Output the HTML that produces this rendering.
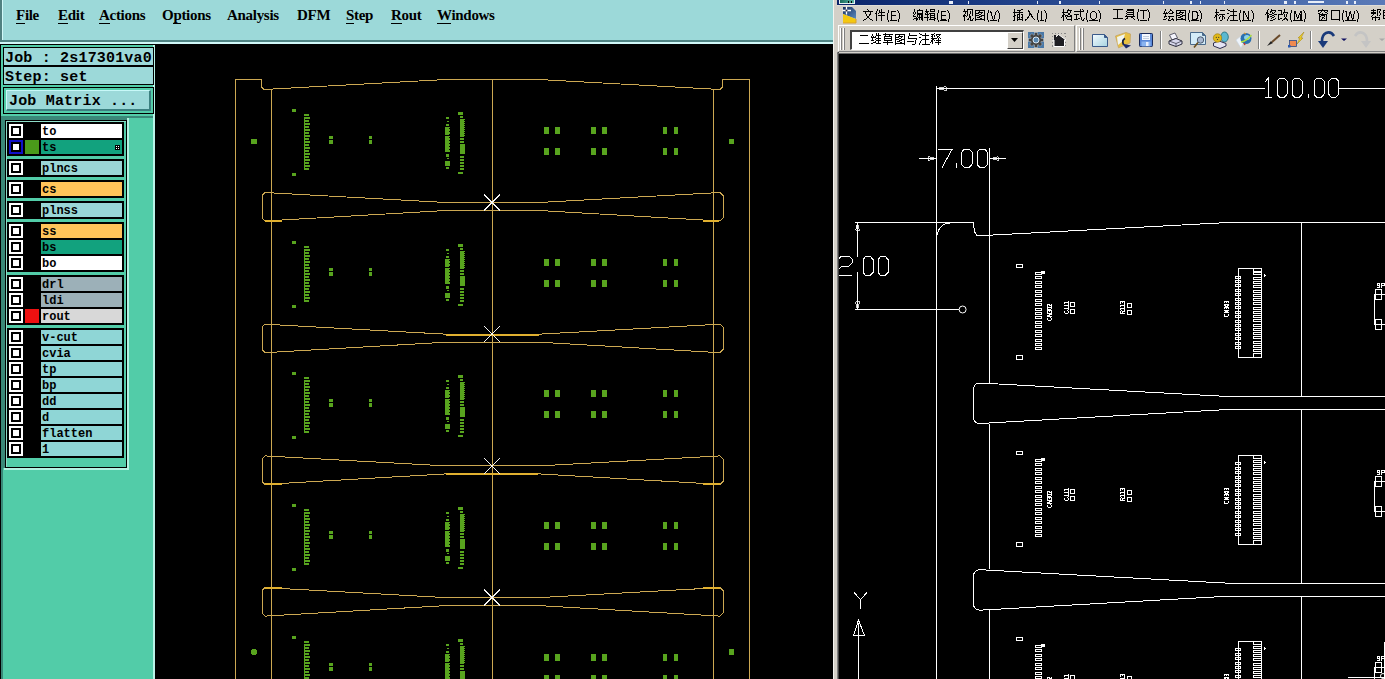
<!DOCTYPE html>
<html><head><meta charset="utf-8">
<style>
*{margin:0;padding:0;box-sizing:border-box}
html,body{width:1385px;height:679px;overflow:hidden;background:#000;position:relative}
.a{position:absolute}
.gm{font-family:"Liberation Serif",serif;font-weight:bold;font-size:15px;letter-spacing:-0.3px;color:#000;position:absolute;top:7px;line-height:17px;white-space:nowrap}
.gm u{text-decoration:none;border-bottom:1px solid #000}
.mono{font-family:"Liberation Mono",monospace;font-weight:bold;color:#000;white-space:pre;position:absolute}
</style></head><body>

<div class="a" style="left:0;top:0;width:833px;height:44px;background:#9cd9d9"></div>
<div class="a" style="left:0;top:0;width:2px;height:42px;background:#4f8080"></div>
<div class="a" style="left:2px;top:0;width:1px;height:42px;background:#d0f8f8"></div>
<div class="a" style="left:2px;top:40px;width:831px;height:2px;background:#508484"></div>
<div class="a" style="left:0;top:42px;width:833px;height:2px;background:#d0f8f8"></div>
<div class="a" style="left:0;top:44px;width:155px;height:1px;background:#000"></div>
<div class="gm" style="left:16px"><u>F</u>ile</div>
<div class="gm" style="left:58px"><u>E</u>dit</div>
<div class="gm" style="left:99px"><u>A</u>ctions</div>
<div class="gm" style="left:162px">O<u>p</u>tions</div>
<div class="gm" style="left:227px">Analysis</div>
<div class="gm" style="left:297px">DFM</div>
<div class="gm" style="left:346px"><u>S</u>tep</div>
<div class="gm" style="left:391px"><u>R</u>out</div>
<div class="gm" style="left:437px"><u>W</u>indows</div>
<div class="a" style="left:0;top:45px;width:155px;height:634px;background:#52cca8"></div>
<div class="a" style="left:0;top:45px;width:1px;height:634px;background:#000"></div>
<div class="a" style="left:153px;top:45px;width:2px;height:634px;background:#b8f4e8"></div>
<div class="a" style="left:3px;top:47px;width:151px;height:38px;background:#9cd9d9;border:1px solid #000"></div>
<div class="a" style="left:3px;top:65px;width:151px;height:2px;background:#000"></div>
<div class="mono" style="left:5px;top:50px;font-size:15px;line-height:17px;letter-spacing:0.18px">Job : 2s17301va0</div>
<div class="mono" style="left:5px;top:69px;font-size:15px;line-height:17px;letter-spacing:0.18px">Step: set</div>
<div class="a" style="left:3px;top:87px;width:151px;height:27px;background:#52cca8;border:1px solid #000"></div>
<div class="a" style="left:6px;top:90px;width:145px;height:21px;background:#9cd9d9;border-top:1px solid #c8f8f8;border-left:1px solid #c8f8f8;border-bottom:2px solid #3c8080;border-right:2px solid #3c8080"></div>
<div class="mono" style="left:9px;top:93px;font-size:15px;line-height:17px;letter-spacing:0.18px">Job Matrix ...</div>
<div class="a" style="left:1px;top:116px;width:152px;height:2px;background:#3a8878"></div>
<div class="a" style="left:1px;top:118px;width:126px;height:2px;background:#3a8878"></div>
<div class="a" style="left:1px;top:116px;width:2px;height:563px;background:#3a8878"></div>
<div class="a" style="left:3px;top:116px;width:2px;height:352px;background:#3a8878"></div>
<div class="a" style="left:5px;top:120px;width:122px;height:1px;background:#000"></div>
<div class="a" style="left:5px;top:120px;width:1px;height:348px;background:#000"></div>
<div class="a" style="left:6px;top:121px;width:120px;height:1px;background:#8edcc8"></div>
<div class="a" style="left:6px;top:121px;width:1px;height:346px;background:#8edcc8"></div>
<div class="a" style="left:126px;top:120px;width:1px;height:348px;background:#000"></div>
<div class="a" style="left:5px;top:467px;width:122px;height:1px;background:#000"></div>
<div class="a" style="left:127px;top:118px;width:2px;height:351px;background:#b4f2e2"></div>
<div class="a" style="left:4px;top:468px;width:125px;height:2px;background:#b4f2e2"></div>
<div class="a" style="left:7px;top:122px;width:117px;height:34px;background:#000"></div>
<div class="a" style="left:9px;top:124px;width:14px;height:14px;background:#fff"></div>
<div class="a" style="left:11px;top:126px;width:10px;height:10px;background:#000"></div>
<div class="a" style="left:13px;top:128px;width:6px;height:6px;background:#fff"></div>
<div class="a" style="left:41px;top:124px;width:81px;height:14px;background:#ffffff"></div>
<div class="mono" style="left:42px;top:125px;font-size:12px;line-height:14px">to</div>
<div class="a" style="left:9px;top:140px;width:14px;height:14px;background:#1010c8"></div>
<div class="a" style="left:11px;top:142px;width:10px;height:10px;background:#000"></div>
<div class="a" style="left:13px;top:144px;width:6px;height:6px;background:#fff"></div>
<div class="a" style="left:25px;top:140px;width:14px;height:14px;background:#4a9a1a"></div>
<div class="a" style="left:41px;top:140px;width:81px;height:14px;background:#12a27e"></div>
<div class="mono" style="left:42px;top:141px;font-size:12px;line-height:14px">ts</div>
<div class="a" style="left:115px;top:145px;width:5px;height:5px;background:#000"></div>
<div class="a" style="left:116px;top:146px;width:1px;height:1px;background:#fff;box-shadow:2px 0 #fff,0 2px #fff,2px 2px #fff"></div>
<div class="a" style="left:7px;top:159px;width:117px;height:18px;background:#000"></div>
<div class="a" style="left:9px;top:161px;width:14px;height:14px;background:#fff"></div>
<div class="a" style="left:11px;top:163px;width:10px;height:10px;background:#000"></div>
<div class="a" style="left:13px;top:165px;width:6px;height:6px;background:#fff"></div>
<div class="a" style="left:41px;top:161px;width:81px;height:14px;background:#9ad6d6"></div>
<div class="mono" style="left:42px;top:162px;font-size:12px;line-height:14px">plncs</div>
<div class="a" style="left:7px;top:180px;width:117px;height:18px;background:#000"></div>
<div class="a" style="left:9px;top:182px;width:14px;height:14px;background:#fff"></div>
<div class="a" style="left:11px;top:184px;width:10px;height:10px;background:#000"></div>
<div class="a" style="left:13px;top:186px;width:6px;height:6px;background:#fff"></div>
<div class="a" style="left:41px;top:182px;width:81px;height:14px;background:#ffc45a"></div>
<div class="mono" style="left:42px;top:183px;font-size:12px;line-height:14px">cs</div>
<div class="a" style="left:7px;top:201px;width:117px;height:18px;background:#000"></div>
<div class="a" style="left:9px;top:203px;width:14px;height:14px;background:#fff"></div>
<div class="a" style="left:11px;top:205px;width:10px;height:10px;background:#000"></div>
<div class="a" style="left:13px;top:207px;width:6px;height:6px;background:#fff"></div>
<div class="a" style="left:41px;top:203px;width:81px;height:14px;background:#9ad6d6"></div>
<div class="mono" style="left:42px;top:204px;font-size:12px;line-height:14px">plnss</div>
<div class="a" style="left:7px;top:222px;width:117px;height:50px;background:#000"></div>
<div class="a" style="left:9px;top:224px;width:14px;height:14px;background:#fff"></div>
<div class="a" style="left:11px;top:226px;width:10px;height:10px;background:#000"></div>
<div class="a" style="left:13px;top:228px;width:6px;height:6px;background:#fff"></div>
<div class="a" style="left:41px;top:224px;width:81px;height:14px;background:#ffc45a"></div>
<div class="mono" style="left:42px;top:225px;font-size:12px;line-height:14px">ss</div>
<div class="a" style="left:9px;top:240px;width:14px;height:14px;background:#fff"></div>
<div class="a" style="left:11px;top:242px;width:10px;height:10px;background:#000"></div>
<div class="a" style="left:13px;top:244px;width:6px;height:6px;background:#fff"></div>
<div class="a" style="left:41px;top:240px;width:81px;height:14px;background:#12a27e"></div>
<div class="mono" style="left:42px;top:241px;font-size:12px;line-height:14px">bs</div>
<div class="a" style="left:9px;top:256px;width:14px;height:14px;background:#fff"></div>
<div class="a" style="left:11px;top:258px;width:10px;height:10px;background:#000"></div>
<div class="a" style="left:13px;top:260px;width:6px;height:6px;background:#fff"></div>
<div class="a" style="left:41px;top:256px;width:81px;height:14px;background:#ffffff"></div>
<div class="mono" style="left:42px;top:257px;font-size:12px;line-height:14px">bo</div>
<div class="a" style="left:7px;top:275px;width:117px;height:50px;background:#000"></div>
<div class="a" style="left:9px;top:277px;width:14px;height:14px;background:#fff"></div>
<div class="a" style="left:11px;top:279px;width:10px;height:10px;background:#000"></div>
<div class="a" style="left:13px;top:281px;width:6px;height:6px;background:#fff"></div>
<div class="a" style="left:41px;top:277px;width:81px;height:14px;background:#9cb0b8"></div>
<div class="mono" style="left:42px;top:278px;font-size:12px;line-height:14px">drl</div>
<div class="a" style="left:9px;top:293px;width:14px;height:14px;background:#fff"></div>
<div class="a" style="left:11px;top:295px;width:10px;height:10px;background:#000"></div>
<div class="a" style="left:13px;top:297px;width:6px;height:6px;background:#fff"></div>
<div class="a" style="left:41px;top:293px;width:81px;height:14px;background:#9cb0b8"></div>
<div class="mono" style="left:42px;top:294px;font-size:12px;line-height:14px">ldi</div>
<div class="a" style="left:9px;top:309px;width:14px;height:14px;background:#fff"></div>
<div class="a" style="left:11px;top:311px;width:10px;height:10px;background:#000"></div>
<div class="a" style="left:13px;top:313px;width:6px;height:6px;background:#fff"></div>
<div class="a" style="left:25px;top:309px;width:14px;height:14px;background:#ee1111"></div>
<div class="a" style="left:41px;top:309px;width:81px;height:14px;background:#d8d8d8"></div>
<div class="mono" style="left:42px;top:310px;font-size:12px;line-height:14px">rout</div>
<div class="a" style="left:7px;top:328px;width:117px;height:130px;background:#000"></div>
<div class="a" style="left:9px;top:330px;width:14px;height:14px;background:#fff"></div>
<div class="a" style="left:11px;top:332px;width:10px;height:10px;background:#000"></div>
<div class="a" style="left:13px;top:334px;width:6px;height:6px;background:#fff"></div>
<div class="a" style="left:41px;top:330px;width:81px;height:14px;background:#8fd6d6"></div>
<div class="mono" style="left:42px;top:331px;font-size:12px;line-height:14px">v-cut</div>
<div class="a" style="left:9px;top:346px;width:14px;height:14px;background:#fff"></div>
<div class="a" style="left:11px;top:348px;width:10px;height:10px;background:#000"></div>
<div class="a" style="left:13px;top:350px;width:6px;height:6px;background:#fff"></div>
<div class="a" style="left:41px;top:346px;width:81px;height:14px;background:#8fd6d6"></div>
<div class="mono" style="left:42px;top:347px;font-size:12px;line-height:14px">cvia</div>
<div class="a" style="left:9px;top:362px;width:14px;height:14px;background:#fff"></div>
<div class="a" style="left:11px;top:364px;width:10px;height:10px;background:#000"></div>
<div class="a" style="left:13px;top:366px;width:6px;height:6px;background:#fff"></div>
<div class="a" style="left:41px;top:362px;width:81px;height:14px;background:#8fd6d6"></div>
<div class="mono" style="left:42px;top:363px;font-size:12px;line-height:14px">tp</div>
<div class="a" style="left:9px;top:378px;width:14px;height:14px;background:#fff"></div>
<div class="a" style="left:11px;top:380px;width:10px;height:10px;background:#000"></div>
<div class="a" style="left:13px;top:382px;width:6px;height:6px;background:#fff"></div>
<div class="a" style="left:41px;top:378px;width:81px;height:14px;background:#8fd6d6"></div>
<div class="mono" style="left:42px;top:379px;font-size:12px;line-height:14px">bp</div>
<div class="a" style="left:9px;top:394px;width:14px;height:14px;background:#fff"></div>
<div class="a" style="left:11px;top:396px;width:10px;height:10px;background:#000"></div>
<div class="a" style="left:13px;top:398px;width:6px;height:6px;background:#fff"></div>
<div class="a" style="left:41px;top:394px;width:81px;height:14px;background:#8fd6d6"></div>
<div class="mono" style="left:42px;top:395px;font-size:12px;line-height:14px">dd</div>
<div class="a" style="left:9px;top:410px;width:14px;height:14px;background:#fff"></div>
<div class="a" style="left:11px;top:412px;width:10px;height:10px;background:#000"></div>
<div class="a" style="left:13px;top:414px;width:6px;height:6px;background:#fff"></div>
<div class="a" style="left:41px;top:410px;width:81px;height:14px;background:#8fd6d6"></div>
<div class="mono" style="left:42px;top:411px;font-size:12px;line-height:14px">d</div>
<div class="a" style="left:9px;top:426px;width:14px;height:14px;background:#fff"></div>
<div class="a" style="left:11px;top:428px;width:10px;height:10px;background:#000"></div>
<div class="a" style="left:13px;top:430px;width:6px;height:6px;background:#fff"></div>
<div class="a" style="left:41px;top:426px;width:81px;height:14px;background:#8fd6d6"></div>
<div class="mono" style="left:42px;top:427px;font-size:12px;line-height:14px">flatten</div>
<div class="a" style="left:9px;top:442px;width:14px;height:14px;background:#fff"></div>
<div class="a" style="left:11px;top:444px;width:10px;height:10px;background:#000"></div>
<div class="a" style="left:13px;top:446px;width:6px;height:6px;background:#fff"></div>
<div class="a" style="left:41px;top:442px;width:81px;height:14px;background:#8fd6d6"></div>
<div class="mono" style="left:42px;top:443px;font-size:12px;line-height:14px">1</div>
<svg class="a" style="left:155px;top:44px" width="678" height="635" viewBox="155 44 678 635" shape-rendering="crispEdges"><g fill="none" stroke="#cca852" stroke-width="1"><path d="M235.5 679V79.5H261.5V87L264 89.5"/><path d="M749.5 679V79.5H722.5V87L720 89.5"/><path d="M271.5 89V679M713.5 89V679M492.5 79V679"/><path d="M264 89.5L446 79.5H539L720 89.5"/><path d="M265 192.5L446 202.5H539L720 192.5L723 195.5V218.0L720 221.0L539 210.5H446L265 221.0L262 218.0V195.5Z"/><path d="M265 324.2L446 334.2H539L720 324.2L723 327.2V349.7L720 352.7L539 342.2H446L265 352.7L262 349.7V327.2Z"/><path d="M265 455.9L446 465.9H539L720 455.9L723 458.9V481.4L720 484.4L539 473.9H446L265 484.4L262 481.4V458.9Z"/><path d="M265 587.5999999999999L446 597.5999999999999H539L720 587.5999999999999L723 590.5999999999999V613.0999999999999L720 616.0999999999999L539 605.5999999999999H446L265 616.0999999999999L262 613.0999999999999V590.5999999999999Z"/></g><path d="M265 220.5H282M703 220.5H719M446 334.5H539M265 483.5H282M703 483.5H720M446 473.5H538M265 588H282M703 588H720" stroke="#e0b030" stroke-width="2" fill="none"/><g stroke="#f4f4f4" stroke-width="1" shape-rendering="crispEdges"><path d="M484 194.5L500 210.5M500 194.5L484 210.5"/><path d="M484 326.2L500 342.2M500 326.2L484 342.2"/><path d="M484 457.9L500 473.9M500 457.9L484 473.9"/><path d="M484 589.5999999999999L500 605.5999999999999M500 589.5999999999999L484 605.5999999999999"/></g><g fill="#58a41e"><rect x="292" y="109.0" width="4" height="3"/><rect x="292" y="173.0" width="4" height="3"/><rect x="304" y="114.0" width="5" height="2"/><rect x="304" y="117.0" width="6" height="2"/><rect x="304" y="120.0" width="5" height="2"/><rect x="304" y="123.0" width="6" height="2"/><rect x="304" y="126.0" width="5" height="2"/><rect x="304" y="129.0" width="6" height="2"/><rect x="304" y="132.0" width="5" height="2"/><rect x="304" y="135.0" width="6" height="2"/><rect x="304" y="138.0" width="5" height="2"/><rect x="304" y="141.0" width="6" height="2"/><rect x="304" y="144.0" width="5" height="2"/><rect x="304" y="147.0" width="6" height="2"/><rect x="304" y="150.0" width="5" height="2"/><rect x="304" y="153.0" width="6" height="2"/><rect x="304" y="156.0" width="5" height="2"/><rect x="304" y="159.0" width="6" height="2"/><rect x="304" y="162.0" width="5" height="2"/><rect x="304" y="165.0" width="6" height="2"/><rect x="304" y="168.0" width="5" height="2"/><rect x="304" y="117.0" width="1" height="51"/><rect x="329" y="136.0" width="4" height="3"/><rect x="329" y="140.0" width="4" height="4"/><rect x="369" y="136.0" width="3" height="3"/><rect x="369" y="140.0" width="3" height="4"/><rect x="446" y="117" width="3" height="2"/><rect x="447" y="121" width="2" height="1"/><rect x="446" y="124" width="3" height="2"/><rect x="445" y="127" width="5" height="8"/><rect x="445" y="136" width="5" height="16"/><rect x="446" y="154" width="3" height="3"/><rect x="447" y="158" width="2" height="1"/><rect x="445" y="161" width="5" height="5"/><rect x="446" y="167" width="3" height="2"/><rect x="458" y="112" width="5" height="3"/><rect x="460" y="116" width="3" height="2"/><rect x="460" y="119" width="5" height="18"/><rect x="460" y="138" width="4" height="2"/><rect x="460" y="141" width="4" height="2"/><rect x="460" y="144" width="5" height="10"/><rect x="460" y="156" width="4" height="2"/><rect x="460" y="159" width="4" height="2"/><rect x="460" y="162" width="4" height="2"/><rect x="460" y="165" width="4" height="2"/><rect x="460" y="168" width="4" height="2"/><rect x="458" y="172" width="5" height="2"/><rect x="449" y="128" width="1" height="1" fill="#000"/><rect x="464" y="120" width="1" height="1" fill="#000"/><rect x="449" y="131" width="1" height="1" fill="#000"/><rect x="464" y="122" width="1" height="1" fill="#000"/><rect x="449" y="134" width="1" height="1" fill="#000"/><rect x="464" y="124" width="1" height="1" fill="#000"/><rect x="449" y="137" width="1" height="1" fill="#000"/><rect x="464" y="126" width="1" height="1" fill="#000"/><rect x="449" y="140" width="1" height="1" fill="#000"/><rect x="464" y="128" width="1" height="1" fill="#000"/><rect x="449" y="143" width="1" height="1" fill="#000"/><rect x="464" y="130" width="1" height="1" fill="#000"/><rect x="449" y="146" width="1" height="1" fill="#000"/><rect x="464" y="132" width="1" height="1" fill="#000"/><rect x="449" y="149" width="1" height="1" fill="#000"/><rect x="464" y="134" width="1" height="1" fill="#000"/><rect x="449" y="152" width="1" height="1" fill="#000"/><rect x="464" y="136" width="1" height="1" fill="#000"/><rect x="544" y="127.0" width="5" height="7"/><rect x="544" y="148.0" width="5" height="7"/><rect x="555" y="127.0" width="5" height="7"/><rect x="555" y="148.0" width="5" height="7"/><rect x="591" y="127.0" width="5" height="7"/><rect x="591" y="148.0" width="5" height="7"/><rect x="602" y="127.0" width="5" height="7"/><rect x="602" y="148.0" width="5" height="7"/><rect x="663" y="127.0" width="4" height="7"/><rect x="663" y="148.0" width="4" height="7"/><rect x="674" y="127.0" width="4" height="7"/><rect x="674" y="148.0" width="4" height="7"/><rect x="292" y="240.7" width="4" height="3"/><rect x="292" y="304.7" width="4" height="3"/><rect x="304" y="245.7" width="5" height="2"/><rect x="304" y="248.7" width="6" height="2"/><rect x="304" y="251.7" width="5" height="2"/><rect x="304" y="254.7" width="6" height="2"/><rect x="304" y="257.7" width="5" height="2"/><rect x="304" y="260.7" width="6" height="2"/><rect x="304" y="263.7" width="5" height="2"/><rect x="304" y="266.7" width="6" height="2"/><rect x="304" y="269.7" width="5" height="2"/><rect x="304" y="272.7" width="6" height="2"/><rect x="304" y="275.7" width="5" height="2"/><rect x="304" y="278.7" width="6" height="2"/><rect x="304" y="281.7" width="5" height="2"/><rect x="304" y="284.7" width="6" height="2"/><rect x="304" y="287.7" width="5" height="2"/><rect x="304" y="290.7" width="6" height="2"/><rect x="304" y="293.7" width="5" height="2"/><rect x="304" y="296.7" width="6" height="2"/><rect x="304" y="299.7" width="5" height="2"/><rect x="304" y="248.7" width="1" height="51"/><rect x="329" y="267.7" width="4" height="3"/><rect x="329" y="271.7" width="4" height="4"/><rect x="369" y="267.7" width="3" height="3"/><rect x="369" y="271.7" width="3" height="4"/><rect x="446" y="249" width="3" height="2"/><rect x="447" y="253" width="2" height="1"/><rect x="446" y="256" width="3" height="2"/><rect x="445" y="259" width="5" height="8"/><rect x="445" y="268" width="5" height="16"/><rect x="446" y="286" width="3" height="3"/><rect x="447" y="290" width="2" height="1"/><rect x="445" y="293" width="5" height="5"/><rect x="446" y="299" width="3" height="2"/><rect x="458" y="244" width="5" height="3"/><rect x="460" y="248" width="3" height="2"/><rect x="460" y="251" width="5" height="18"/><rect x="460" y="270" width="4" height="2"/><rect x="460" y="273" width="4" height="2"/><rect x="460" y="276" width="5" height="10"/><rect x="460" y="288" width="4" height="2"/><rect x="460" y="291" width="4" height="2"/><rect x="460" y="294" width="4" height="2"/><rect x="460" y="297" width="4" height="2"/><rect x="460" y="300" width="4" height="2"/><rect x="458" y="304" width="5" height="2"/><rect x="449" y="260" width="1" height="1" fill="#000"/><rect x="464" y="252" width="1" height="1" fill="#000"/><rect x="449" y="263" width="1" height="1" fill="#000"/><rect x="464" y="254" width="1" height="1" fill="#000"/><rect x="449" y="266" width="1" height="1" fill="#000"/><rect x="464" y="256" width="1" height="1" fill="#000"/><rect x="449" y="269" width="1" height="1" fill="#000"/><rect x="464" y="258" width="1" height="1" fill="#000"/><rect x="449" y="272" width="1" height="1" fill="#000"/><rect x="464" y="260" width="1" height="1" fill="#000"/><rect x="449" y="275" width="1" height="1" fill="#000"/><rect x="464" y="262" width="1" height="1" fill="#000"/><rect x="449" y="278" width="1" height="1" fill="#000"/><rect x="464" y="264" width="1" height="1" fill="#000"/><rect x="449" y="281" width="1" height="1" fill="#000"/><rect x="464" y="266" width="1" height="1" fill="#000"/><rect x="449" y="284" width="1" height="1" fill="#000"/><rect x="464" y="268" width="1" height="1" fill="#000"/><rect x="544" y="258.7" width="5" height="7"/><rect x="544" y="279.7" width="5" height="7"/><rect x="555" y="258.7" width="5" height="7"/><rect x="555" y="279.7" width="5" height="7"/><rect x="591" y="258.7" width="5" height="7"/><rect x="591" y="279.7" width="5" height="7"/><rect x="602" y="258.7" width="5" height="7"/><rect x="602" y="279.7" width="5" height="7"/><rect x="663" y="258.7" width="4" height="7"/><rect x="663" y="279.7" width="4" height="7"/><rect x="674" y="258.7" width="4" height="7"/><rect x="674" y="279.7" width="4" height="7"/><rect x="292" y="372.4" width="4" height="3"/><rect x="292" y="436.4" width="4" height="3"/><rect x="304" y="377.4" width="5" height="2"/><rect x="304" y="380.4" width="6" height="2"/><rect x="304" y="383.4" width="5" height="2"/><rect x="304" y="386.4" width="6" height="2"/><rect x="304" y="389.4" width="5" height="2"/><rect x="304" y="392.4" width="6" height="2"/><rect x="304" y="395.4" width="5" height="2"/><rect x="304" y="398.4" width="6" height="2"/><rect x="304" y="401.4" width="5" height="2"/><rect x="304" y="404.4" width="6" height="2"/><rect x="304" y="407.4" width="5" height="2"/><rect x="304" y="410.4" width="6" height="2"/><rect x="304" y="413.4" width="5" height="2"/><rect x="304" y="416.4" width="6" height="2"/><rect x="304" y="419.4" width="5" height="2"/><rect x="304" y="422.4" width="6" height="2"/><rect x="304" y="425.4" width="5" height="2"/><rect x="304" y="428.4" width="6" height="2"/><rect x="304" y="431.4" width="5" height="2"/><rect x="304" y="380.4" width="1" height="51"/><rect x="329" y="399.4" width="4" height="3"/><rect x="329" y="403.4" width="4" height="4"/><rect x="369" y="399.4" width="3" height="3"/><rect x="369" y="403.4" width="3" height="4"/><rect x="446" y="380" width="3" height="2"/><rect x="447" y="384" width="2" height="1"/><rect x="446" y="387" width="3" height="2"/><rect x="445" y="390" width="5" height="8"/><rect x="445" y="399" width="5" height="16"/><rect x="446" y="417" width="3" height="3"/><rect x="447" y="421" width="2" height="1"/><rect x="445" y="424" width="5" height="5"/><rect x="446" y="430" width="3" height="2"/><rect x="458" y="375" width="5" height="3"/><rect x="460" y="379" width="3" height="2"/><rect x="460" y="382" width="5" height="18"/><rect x="460" y="401" width="4" height="2"/><rect x="460" y="404" width="4" height="2"/><rect x="460" y="407" width="5" height="10"/><rect x="460" y="419" width="4" height="2"/><rect x="460" y="422" width="4" height="2"/><rect x="460" y="425" width="4" height="2"/><rect x="460" y="428" width="4" height="2"/><rect x="460" y="431" width="4" height="2"/><rect x="458" y="435" width="5" height="2"/><rect x="449" y="391" width="1" height="1" fill="#000"/><rect x="464" y="383" width="1" height="1" fill="#000"/><rect x="449" y="394" width="1" height="1" fill="#000"/><rect x="464" y="385" width="1" height="1" fill="#000"/><rect x="449" y="397" width="1" height="1" fill="#000"/><rect x="464" y="387" width="1" height="1" fill="#000"/><rect x="449" y="400" width="1" height="1" fill="#000"/><rect x="464" y="389" width="1" height="1" fill="#000"/><rect x="449" y="403" width="1" height="1" fill="#000"/><rect x="464" y="391" width="1" height="1" fill="#000"/><rect x="449" y="406" width="1" height="1" fill="#000"/><rect x="464" y="393" width="1" height="1" fill="#000"/><rect x="449" y="409" width="1" height="1" fill="#000"/><rect x="464" y="395" width="1" height="1" fill="#000"/><rect x="449" y="412" width="1" height="1" fill="#000"/><rect x="464" y="397" width="1" height="1" fill="#000"/><rect x="449" y="415" width="1" height="1" fill="#000"/><rect x="464" y="399" width="1" height="1" fill="#000"/><rect x="544" y="390.4" width="5" height="7"/><rect x="544" y="411.4" width="5" height="7"/><rect x="555" y="390.4" width="5" height="7"/><rect x="555" y="411.4" width="5" height="7"/><rect x="591" y="390.4" width="5" height="7"/><rect x="591" y="411.4" width="5" height="7"/><rect x="602" y="390.4" width="5" height="7"/><rect x="602" y="411.4" width="5" height="7"/><rect x="663" y="390.4" width="4" height="7"/><rect x="663" y="411.4" width="4" height="7"/><rect x="674" y="390.4" width="4" height="7"/><rect x="674" y="411.4" width="4" height="7"/><rect x="292" y="504.1" width="4" height="3"/><rect x="292" y="568.1" width="4" height="3"/><rect x="304" y="509.1" width="5" height="2"/><rect x="304" y="512.1" width="6" height="2"/><rect x="304" y="515.1" width="5" height="2"/><rect x="304" y="518.1" width="6" height="2"/><rect x="304" y="521.1" width="5" height="2"/><rect x="304" y="524.1" width="6" height="2"/><rect x="304" y="527.1" width="5" height="2"/><rect x="304" y="530.1" width="6" height="2"/><rect x="304" y="533.1" width="5" height="2"/><rect x="304" y="536.1" width="6" height="2"/><rect x="304" y="539.1" width="5" height="2"/><rect x="304" y="542.1" width="6" height="2"/><rect x="304" y="545.1" width="5" height="2"/><rect x="304" y="548.1" width="6" height="2"/><rect x="304" y="551.1" width="5" height="2"/><rect x="304" y="554.1" width="6" height="2"/><rect x="304" y="557.1" width="5" height="2"/><rect x="304" y="560.1" width="6" height="2"/><rect x="304" y="563.1" width="5" height="2"/><rect x="304" y="512.1" width="1" height="51"/><rect x="329" y="531.1" width="4" height="3"/><rect x="329" y="535.1" width="4" height="4"/><rect x="369" y="531.1" width="3" height="3"/><rect x="369" y="535.1" width="3" height="4"/><rect x="446" y="512" width="3" height="2"/><rect x="447" y="516" width="2" height="1"/><rect x="446" y="519" width="3" height="2"/><rect x="445" y="522" width="5" height="8"/><rect x="445" y="531" width="5" height="16"/><rect x="446" y="549" width="3" height="3"/><rect x="447" y="553" width="2" height="1"/><rect x="445" y="556" width="5" height="5"/><rect x="446" y="562" width="3" height="2"/><rect x="458" y="507" width="5" height="3"/><rect x="460" y="511" width="3" height="2"/><rect x="460" y="514" width="5" height="18"/><rect x="460" y="533" width="4" height="2"/><rect x="460" y="536" width="4" height="2"/><rect x="460" y="539" width="5" height="10"/><rect x="460" y="551" width="4" height="2"/><rect x="460" y="554" width="4" height="2"/><rect x="460" y="557" width="4" height="2"/><rect x="460" y="560" width="4" height="2"/><rect x="460" y="563" width="4" height="2"/><rect x="458" y="567" width="5" height="2"/><rect x="449" y="523" width="1" height="1" fill="#000"/><rect x="464" y="515" width="1" height="1" fill="#000"/><rect x="449" y="526" width="1" height="1" fill="#000"/><rect x="464" y="517" width="1" height="1" fill="#000"/><rect x="449" y="529" width="1" height="1" fill="#000"/><rect x="464" y="519" width="1" height="1" fill="#000"/><rect x="449" y="532" width="1" height="1" fill="#000"/><rect x="464" y="521" width="1" height="1" fill="#000"/><rect x="449" y="535" width="1" height="1" fill="#000"/><rect x="464" y="523" width="1" height="1" fill="#000"/><rect x="449" y="538" width="1" height="1" fill="#000"/><rect x="464" y="525" width="1" height="1" fill="#000"/><rect x="449" y="541" width="1" height="1" fill="#000"/><rect x="464" y="527" width="1" height="1" fill="#000"/><rect x="449" y="544" width="1" height="1" fill="#000"/><rect x="464" y="529" width="1" height="1" fill="#000"/><rect x="449" y="547" width="1" height="1" fill="#000"/><rect x="464" y="531" width="1" height="1" fill="#000"/><rect x="544" y="522.1" width="5" height="7"/><rect x="544" y="543.1" width="5" height="7"/><rect x="555" y="522.1" width="5" height="7"/><rect x="555" y="543.1" width="5" height="7"/><rect x="591" y="522.1" width="5" height="7"/><rect x="591" y="543.1" width="5" height="7"/><rect x="602" y="522.1" width="5" height="7"/><rect x="602" y="543.1" width="5" height="7"/><rect x="663" y="522.1" width="4" height="7"/><rect x="663" y="543.1" width="4" height="7"/><rect x="674" y="522.1" width="4" height="7"/><rect x="674" y="543.1" width="4" height="7"/><rect x="292" y="635.8" width="4" height="3"/><rect x="292" y="699.8" width="4" height="3"/><rect x="304" y="640.8" width="5" height="2"/><rect x="304" y="643.8" width="6" height="2"/><rect x="304" y="646.8" width="5" height="2"/><rect x="304" y="649.8" width="6" height="2"/><rect x="304" y="652.8" width="5" height="2"/><rect x="304" y="655.8" width="6" height="2"/><rect x="304" y="658.8" width="5" height="2"/><rect x="304" y="661.8" width="6" height="2"/><rect x="304" y="664.8" width="5" height="2"/><rect x="304" y="667.8" width="6" height="2"/><rect x="304" y="670.8" width="5" height="2"/><rect x="304" y="673.8" width="6" height="2"/><rect x="304" y="676.8" width="5" height="2"/><rect x="304" y="679.8" width="6" height="2"/><rect x="304" y="682.8" width="5" height="2"/><rect x="304" y="685.8" width="6" height="2"/><rect x="304" y="688.8" width="5" height="2"/><rect x="304" y="691.8" width="6" height="2"/><rect x="304" y="694.8" width="5" height="2"/><rect x="304" y="643.8" width="1" height="51"/><rect x="329" y="662.8" width="4" height="3"/><rect x="329" y="666.8" width="4" height="4"/><rect x="369" y="662.8" width="3" height="3"/><rect x="369" y="666.8" width="3" height="4"/><rect x="446" y="644" width="3" height="2"/><rect x="447" y="648" width="2" height="1"/><rect x="446" y="651" width="3" height="2"/><rect x="445" y="654" width="5" height="8"/><rect x="445" y="663" width="5" height="16"/><rect x="446" y="681" width="3" height="3"/><rect x="447" y="685" width="2" height="1"/><rect x="445" y="688" width="5" height="5"/><rect x="446" y="694" width="3" height="2"/><rect x="458" y="639" width="5" height="3"/><rect x="460" y="643" width="3" height="2"/><rect x="460" y="646" width="5" height="18"/><rect x="460" y="665" width="4" height="2"/><rect x="460" y="668" width="4" height="2"/><rect x="460" y="671" width="5" height="10"/><rect x="460" y="683" width="4" height="2"/><rect x="460" y="686" width="4" height="2"/><rect x="460" y="689" width="4" height="2"/><rect x="460" y="692" width="4" height="2"/><rect x="460" y="695" width="4" height="2"/><rect x="458" y="699" width="5" height="2"/><rect x="449" y="655" width="1" height="1" fill="#000"/><rect x="464" y="647" width="1" height="1" fill="#000"/><rect x="449" y="658" width="1" height="1" fill="#000"/><rect x="464" y="649" width="1" height="1" fill="#000"/><rect x="449" y="661" width="1" height="1" fill="#000"/><rect x="464" y="651" width="1" height="1" fill="#000"/><rect x="449" y="664" width="1" height="1" fill="#000"/><rect x="464" y="653" width="1" height="1" fill="#000"/><rect x="449" y="667" width="1" height="1" fill="#000"/><rect x="464" y="655" width="1" height="1" fill="#000"/><rect x="449" y="670" width="1" height="1" fill="#000"/><rect x="464" y="657" width="1" height="1" fill="#000"/><rect x="449" y="673" width="1" height="1" fill="#000"/><rect x="464" y="659" width="1" height="1" fill="#000"/><rect x="449" y="676" width="1" height="1" fill="#000"/><rect x="464" y="661" width="1" height="1" fill="#000"/><rect x="449" y="679" width="1" height="1" fill="#000"/><rect x="464" y="663" width="1" height="1" fill="#000"/><rect x="544" y="653.8" width="5" height="7"/><rect x="544" y="674.8" width="5" height="7"/><rect x="555" y="653.8" width="5" height="7"/><rect x="555" y="674.8" width="5" height="7"/><rect x="591" y="653.8" width="5" height="7"/><rect x="591" y="674.8" width="5" height="7"/><rect x="602" y="653.8" width="5" height="7"/><rect x="602" y="674.8" width="5" height="7"/><rect x="663" y="653.8" width="4" height="7"/><rect x="663" y="674.8" width="4" height="7"/><rect x="674" y="653.8" width="4" height="7"/><rect x="674" y="674.8" width="4" height="7"/><rect x="251" y="139" width="6" height="5"/><rect x="729" y="139" width="5" height="5"/><circle cx="254" cy="652" r="3"/><rect x="729" y="649" width="5" height="6"/></g></svg>
<div class="a" style="left:833px;top:0;width:552px;height:54px;background:#d4d0c8"></div>
<div class="a" style="left:837px;top:0;width:548px;height:5px;background:linear-gradient(90deg,#0a246a 0%,#1a3a82 25%,#3a5ca0 60%,#5a7ab8 100%)"></div>
<div class="a" style="left:949px;top:1px;width:4px;height:3px;background:#e8eef8"></div>
<div class="a" style="left:968px;top:1px;width:1px;height:3px;background:#e8eef8"></div>
<div class="a" style="left:1037px;top:1px;width:1px;height:3px;background:#e8eef8"></div>
<div class="a" style="left:1059px;top:1px;width:2px;height:3px;background:#e8eef8"></div>
<div class="a" style="left:1099px;top:1px;width:1px;height:3px;background:#e8eef8"></div>
<div class="a" style="left:1163px;top:1px;width:1px;height:3px;background:#e8eef8"></div>
<div class="a" style="left:1190px;top:1px;width:2px;height:3px;background:#e8eef8"></div>
<div class="a" style="left:1200px;top:1px;width:1px;height:3px;background:#e8eef8"></div>
<div class="a" style="left:1224px;top:1px;width:1px;height:3px;background:#e8eef8"></div>
<div class="a" style="left:1284px;top:1px;width:3px;height:3px;background:#e8eef8"></div>
<div class="a" style="left:1294px;top:1px;width:2px;height:3px;background:#e8eef8"></div>
<div class="a" style="left:1308px;top:1px;width:16px;height:2px;background:#e8eef8"></div>
<div class="a" style="left:1346px;top:1px;width:2px;height:3px;background:#e8eef8"></div>
<div class="a" style="left:1354px;top:1px;width:2px;height:3px;background:#e8eef8"></div>
<div class="a" style="left:839px;top:0;width:16px;height:4px;background:#e8f0f0"></div>
<div class="a" style="left:840px;top:0;width:14px;height:3px;background:linear-gradient(90deg,#1a6a5a,#5ab8a8)"></div>
<div class="a" style="left:848px;top:1px;width:1px;height:2px;background:#000"></div><div class="a" style="left:851px;top:1px;width:1px;height:2px;background:#000"></div>
<div class="a" style="left:837px;top:5px;width:548px;height:1px;background:#e0ddd6"></div>
<div class="a" style="left:833px;top:0;width:1px;height:679px;background:#f4f4f0"></div>
<div class="a" style="left:834px;top:0;width:3px;height:679px;background:#d4d0c8"></div>
<div class="a" style="left:837px;top:52px;width:1px;height:627px;background:#808080"></div>
<div class="a" style="left:838px;top:52px;width:1px;height:627px;background:#404040"></div>
<svg class="a" style="left:842px;top:6px" width="16" height="18" viewBox="0 0 16 18">
<defs><linearGradient id="ib" x1="0" y1="0" x2="1" y2="1"><stop offset="0" stop-color="#1a3060"/><stop offset="1" stop-color="#5a8ac0"/></linearGradient></defs>
<path d="M1 1H10L14 5V13L1 8Z" fill="url(#ib)"/>
<path d="M1 8L14 13V17H1Z" fill="#f4c810"/><path d="M1 17H14V13" stroke="#d8a030" fill="none"/>
<path d="M0.5 4.5H9M4.5 0.5V8.5" stroke="#fff" stroke-width="1.3"/><circle cx="4.5" cy="4.5" r="1" fill="#223"/>
</svg>
<svg class="a" style="left:0;top:0" width="1385" height="30" fill="#000" shape-rendering="crispEdges"><path transform="translate(862,7)" d="M5 2h1v1h-1zM15 2h1v1h-1zM19 2h1v1h-1zM6 3h1v1h-1zM15 3h1v1h-1zM17 3h1v1h-1zM19 3h1v1h-1zM26 3h1v1h-1zM35 3h1v1h-1zM1 4h10v1h-10zM14 4h1v1h-1zM17 4h1v1h-1zM19 4h1v1h-1zM26 4h1v1h-1zM29 4h5v1h-5zM36 4h1v1h-1zM3 5h1v1h-1zM8 5h1v1h-1zM14 5h1v1h-1zM17 5h6v1h-6zM26 5h1v1h-1zM29 5h1v1h-1zM36 5h1v1h-1zM3 6h1v1h-1zM8 6h1v1h-1zM13 6h2v1h-2zM16 6h1v1h-1zM19 6h1v1h-1zM25 6h1v1h-1zM29 6h1v1h-1zM37 6h1v1h-1zM4 7h1v1h-1zM7 7h2v1h-2zM14 7h1v1h-1zM19 7h1v1h-1zM25 7h1v1h-1zM29 7h1v1h-1zM37 7h1v1h-1zM4 8h1v1h-1zM7 8h1v1h-1zM14 8h1v1h-1zM16 8h7v1h-7zM25 8h1v1h-1zM29 8h5v1h-5zM37 8h1v1h-1zM5 9h2v1h-2zM14 9h1v1h-1zM19 9h1v1h-1zM25 9h1v1h-1zM29 9h1v1h-1zM37 9h1v1h-1zM5 10h2v1h-2zM14 10h1v1h-1zM19 10h1v1h-1zM25 10h1v1h-1zM29 10h1v1h-1zM37 10h1v1h-1zM4 11h1v1h-1zM7 11h1v1h-1zM14 11h1v1h-1zM19 11h1v1h-1zM25 11h1v1h-1zM29 11h1v1h-1zM37 11h1v1h-1zM2 12h2v1h-2zM8 12h2v1h-2zM14 12h1v1h-1zM19 12h1v1h-1zM25 12h1v1h-1zM29 12h1v1h-1zM36 12h1v1h-1zM1 13h1v1h-1zM10 13h1v1h-1zM14 13h1v1h-1zM19 13h1v1h-1zM26 13h1v1h-1zM36 13h1v1h-1zM26 14h1v1h-1zM36 14h1v1h-1z"/><rect x="890" y="20" width="7" height="1"/><path transform="translate(912,7)" d="M2 2h1v1h-1zM7 2h1v1h-1zM14 2h1v1h-1zM18 2h5v1h-5zM2 3h1v1h-1zM5 3h6v1h-6zM14 3h1v1h-1zM18 3h1v1h-1zM22 3h1v1h-1zM26 3h1v1h-1zM35 3h1v1h-1zM2 4h1v1h-1zM5 4h1v1h-1zM10 4h1v1h-1zM13 4h4v1h-4zM18 4h5v1h-5zM26 4h1v1h-1zM29 4h5v1h-5zM36 4h1v1h-1zM1 5h1v1h-1zM3 5h1v1h-1zM5 5h1v1h-1zM10 5h1v1h-1zM14 5h2v1h-2zM26 5h1v1h-1zM29 5h1v1h-1zM36 5h1v1h-1zM1 6h1v1h-1zM3 6h1v1h-1zM5 6h6v1h-6zM13 6h1v1h-1zM15 6h1v1h-1zM17 6h6v1h-6zM25 6h1v1h-1zM29 6h1v1h-1zM37 6h1v1h-1zM2 7h1v1h-1zM5 7h6v1h-6zM13 7h4v1h-4zM18 7h1v1h-1zM22 7h1v1h-1zM25 7h1v1h-1zM29 7h1v1h-1zM37 7h1v1h-1zM1 8h1v1h-1zM5 8h1v1h-1zM7 8h1v1h-1zM9 8h2v1h-2zM15 8h1v1h-1zM18 8h5v1h-5zM25 8h1v1h-1zM29 8h5v1h-5zM37 8h1v1h-1zM1 9h3v1h-3zM5 9h1v1h-1zM7 9h1v1h-1zM9 9h2v1h-2zM15 9h1v1h-1zM18 9h1v1h-1zM22 9h1v1h-1zM25 9h1v1h-1zM29 9h1v1h-1zM37 9h1v1h-1zM4 10h1v1h-1zM6 10h5v1h-5zM12 10h5v1h-5zM18 10h5v1h-5zM25 10h1v1h-1zM29 10h1v1h-1zM37 10h1v1h-1zM2 11h4v1h-4zM7 11h1v1h-1zM9 11h2v1h-2zM15 11h1v1h-1zM18 11h1v1h-1zM22 11h2v1h-2zM25 11h1v1h-1zM29 11h1v1h-1zM37 11h1v1h-1zM1 12h1v1h-1zM4 12h2v1h-2zM7 12h1v1h-1zM9 12h2v1h-2zM15 12h1v1h-1zM17 12h6v1h-6zM25 12h1v1h-1zM29 12h5v1h-5zM36 12h1v1h-1zM4 13h1v1h-1zM10 13h1v1h-1zM15 13h1v1h-1zM22 13h1v1h-1zM26 13h1v1h-1zM36 13h1v1h-1zM26 14h1v1h-1zM36 14h1v1h-1z"/><rect x="940" y="20" width="7" height="1"/><path transform="translate(962,7)" d="M2 2h1v1h-1zM5 2h6v1h-6zM2 3h1v1h-1zM5 3h1v1h-1zM10 3h1v1h-1zM13 3h10v1h-10zM26 3h1v1h-1zM35 3h1v1h-1zM1 4h5v1h-5zM8 4h1v1h-1zM10 4h1v1h-1zM13 4h1v1h-1zM17 4h1v1h-1zM22 4h1v1h-1zM26 4h1v1h-1zM28 4h1v1h-1zM34 4h1v1h-1zM36 4h1v1h-1zM3 5h1v1h-1zM5 5h1v1h-1zM8 5h1v1h-1zM10 5h1v1h-1zM13 5h1v1h-1zM16 5h5v1h-5zM22 5h1v1h-1zM26 5h1v1h-1zM28 5h2v1h-2zM33 5h1v1h-1zM36 5h1v1h-1zM3 6h1v1h-1zM5 6h1v1h-1zM8 6h1v1h-1zM10 6h1v1h-1zM13 6h4v1h-4zM19 6h1v1h-1zM22 6h1v1h-1zM25 6h1v1h-1zM29 6h1v1h-1zM33 6h1v1h-1zM37 6h1v1h-1zM2 7h1v1h-1zM5 7h1v1h-1zM7 7h1v1h-1zM10 7h1v1h-1zM13 7h1v1h-1zM17 7h2v1h-2zM22 7h1v1h-1zM25 7h1v1h-1zM29 7h1v1h-1zM33 7h1v1h-1zM37 7h1v1h-1zM1 8h3v1h-3zM5 8h1v1h-1zM7 8h1v1h-1zM10 8h1v1h-1zM13 8h4v1h-4zM19 8h4v1h-4zM25 8h1v1h-1zM29 8h1v1h-1zM32 8h1v1h-1zM37 8h1v1h-1zM1 9h2v1h-2zM4 9h1v1h-1zM7 9h2v1h-2zM13 9h1v1h-1zM17 9h3v1h-3zM22 9h1v1h-1zM25 9h1v1h-1zM30 9h1v1h-1zM32 9h1v1h-1zM37 9h1v1h-1zM2 10h1v1h-1zM7 10h2v1h-2zM13 10h1v1h-1zM15 10h3v1h-3zM22 10h1v1h-1zM25 10h1v1h-1zM30 10h1v1h-1zM32 10h1v1h-1zM37 10h1v1h-1zM2 11h1v1h-1zM6 11h1v1h-1zM8 11h1v1h-1zM11 11h1v1h-1zM13 11h1v1h-1zM18 11h2v1h-2zM22 11h1v1h-1zM25 11h1v1h-1zM30 11h1v1h-1zM32 11h1v1h-1zM37 11h1v1h-1zM2 12h1v1h-1zM5 12h2v1h-2zM8 12h1v1h-1zM10 12h1v1h-1zM13 12h10v1h-10zM25 12h1v1h-1zM31 12h1v1h-1zM36 12h1v1h-1zM2 13h1v1h-1zM8 13h3v1h-3zM13 13h1v1h-1zM22 13h1v1h-1zM26 13h1v1h-1zM36 13h1v1h-1zM26 14h1v1h-1zM36 14h1v1h-1z"/><rect x="990" y="20" width="7" height="1"/><path transform="translate(1012,6)" d="M2 3h1v1h-1zM9 3h2v1h-2zM2 4h1v1h-1zM5 4h4v1h-4zM16 4h1v1h-1zM26 4h1v1h-1zM32 4h1v1h-1zM2 5h1v1h-1zM7 5h1v1h-1zM16 5h2v1h-2zM26 5h1v1h-1zM29 5h1v1h-1zM33 5h1v1h-1zM1 6h10v1h-10zM17 6h1v1h-1zM26 6h1v1h-1zM29 6h1v1h-1zM33 6h1v1h-1zM2 7h1v1h-1zM7 7h1v1h-1zM17 7h2v1h-2zM25 7h1v1h-1zM29 7h1v1h-1zM34 7h1v1h-1zM2 8h1v1h-1zM5 8h3v1h-3zM9 8h2v1h-2zM17 8h3v1h-3zM25 8h1v1h-1zM29 8h1v1h-1zM34 8h1v1h-1zM2 9h2v1h-2zM5 9h1v1h-1zM7 9h1v1h-1zM10 9h1v1h-1zM17 9h1v1h-1zM19 9h1v1h-1zM25 9h1v1h-1zM29 9h1v1h-1zM34 9h1v1h-1zM1 10h2v1h-2zM5 10h1v1h-1zM7 10h1v1h-1zM10 10h1v1h-1zM16 10h1v1h-1zM19 10h2v1h-2zM25 10h1v1h-1zM29 10h1v1h-1zM34 10h1v1h-1zM2 11h1v1h-1zM5 11h3v1h-3zM9 11h2v1h-2zM15 11h2v1h-2zM20 11h1v1h-1zM25 11h1v1h-1zM29 11h1v1h-1zM34 11h1v1h-1zM2 12h1v1h-1zM5 12h1v1h-1zM7 12h1v1h-1zM10 12h1v1h-1zM15 12h1v1h-1zM21 12h1v1h-1zM25 12h1v1h-1zM29 12h1v1h-1zM34 12h1v1h-1zM2 13h1v1h-1zM5 13h6v1h-6zM13 13h2v1h-2zM22 13h1v1h-1zM25 13h1v1h-1zM29 13h1v1h-1zM33 13h1v1h-1zM1 14h2v1h-2zM5 14h1v1h-1zM10 14h1v1h-1zM13 14h1v1h-1zM26 14h1v1h-1zM33 14h1v1h-1zM26 15h1v1h-1zM33 15h1v1h-1z"/><rect x="1040" y="20" width="4" height="1"/><path transform="translate(1061,7)" d="M2 2h1v1h-1zM7 2h1v1h-1zM19 2h1v1h-1zM21 2h1v1h-1zM2 3h1v1h-1zM6 3h5v1h-5zM19 3h1v1h-1zM22 3h1v1h-1zM26 3h1v1h-1zM37 3h1v1h-1zM2 4h1v1h-1zM6 4h1v1h-1zM9 4h1v1h-1zM13 4h10v1h-10zM26 4h1v1h-1zM31 4h3v1h-3zM38 4h1v1h-1zM1 5h6v1h-6zM9 5h1v1h-1zM19 5h1v1h-1zM26 5h1v1h-1zM30 5h1v1h-1zM34 5h1v1h-1zM38 5h1v1h-1zM2 6h1v1h-1zM7 6h2v1h-2zM19 6h1v1h-1zM25 6h1v1h-1zM29 6h1v1h-1zM35 6h1v1h-1zM39 6h1v1h-1zM2 7h2v1h-2zM7 7h2v1h-2zM13 7h5v1h-5zM19 7h1v1h-1zM25 7h1v1h-1zM29 7h1v1h-1zM35 7h1v1h-1zM39 7h1v1h-1zM1 8h2v1h-2zM4 8h3v1h-3zM9 8h2v1h-2zM15 8h1v1h-1zM19 8h1v1h-1zM25 8h1v1h-1zM29 8h1v1h-1zM35 8h1v1h-1zM39 8h1v1h-1zM1 9h2v1h-2zM4 9h1v1h-1zM6 9h5v1h-5zM15 9h1v1h-1zM19 9h1v1h-1zM25 9h1v1h-1zM29 9h1v1h-1zM35 9h1v1h-1zM39 9h1v1h-1zM0 10h1v1h-1zM2 10h1v1h-1zM5 10h1v1h-1zM10 10h1v1h-1zM15 10h1v1h-1zM20 10h1v1h-1zM25 10h1v1h-1zM29 10h1v1h-1zM35 10h1v1h-1zM39 10h1v1h-1zM2 11h1v1h-1zM5 11h1v1h-1zM10 11h1v1h-1zM15 11h1v1h-1zM17 11h2v1h-2zM20 11h1v1h-1zM23 11h1v1h-1zM25 11h1v1h-1zM30 11h1v1h-1zM34 11h1v1h-1zM39 11h1v1h-1zM2 12h1v1h-1zM6 12h5v1h-5zM13 12h4v1h-4zM20 12h1v1h-1zM22 12h1v1h-1zM25 12h1v1h-1zM31 12h3v1h-3zM38 12h1v1h-1zM2 13h1v1h-1zM10 13h1v1h-1zM21 13h2v1h-2zM26 13h1v1h-1zM38 13h1v1h-1zM26 14h1v1h-1zM38 14h1v1h-1z"/><rect x="1089" y="20" width="9" height="1"/><path transform="translate(1112,5)" d="M1 4h10v1h-10zM15 4h7v1h-7zM26 4h1v1h-1zM35 4h1v1h-1zM5 5h1v1h-1zM15 5h7v1h-7zM26 5h1v1h-1zM28 5h7v1h-7zM36 5h1v1h-1zM5 6h1v1h-1zM14 6h1v1h-1zM21 6h1v1h-1zM26 6h1v1h-1zM31 6h1v1h-1zM36 6h1v1h-1zM5 7h1v1h-1zM15 7h7v1h-7zM25 7h1v1h-1zM31 7h1v1h-1zM37 7h1v1h-1zM5 8h1v1h-1zM14 8h1v1h-1zM21 8h1v1h-1zM25 8h1v1h-1zM31 8h1v1h-1zM37 8h1v1h-1zM5 9h1v1h-1zM15 9h7v1h-7zM25 9h1v1h-1zM31 9h1v1h-1zM37 9h1v1h-1zM5 10h1v1h-1zM14 10h1v1h-1zM21 10h1v1h-1zM25 10h1v1h-1zM31 10h1v1h-1zM37 10h1v1h-1zM5 11h1v1h-1zM13 11h10v1h-10zM25 11h1v1h-1zM31 11h1v1h-1zM37 11h1v1h-1zM5 12h1v1h-1zM15 12h1v1h-1zM19 12h2v1h-2zM25 12h1v1h-1zM31 12h1v1h-1zM37 12h1v1h-1zM1 13h10v1h-10zM14 13h2v1h-2zM21 13h1v1h-1zM25 13h1v1h-1zM31 13h1v1h-1zM36 13h1v1h-1zM13 14h1v1h-1zM22 14h1v1h-1zM26 14h1v1h-1zM36 14h1v1h-1zM26 15h1v1h-1zM36 15h1v1h-1z"/><rect x="1140" y="20" width="7" height="1"/><path transform="translate(1163,7)" d="M2 2h1v1h-1zM7 2h1v1h-1zM2 3h1v1h-1zM7 3h2v1h-2zM13 3h10v1h-10zM26 3h1v1h-1zM36 3h1v1h-1zM1 4h1v1h-1zM6 4h1v1h-1zM9 4h1v1h-1zM13 4h1v1h-1zM17 4h1v1h-1zM22 4h1v1h-1zM26 4h1v1h-1zM29 4h5v1h-5zM37 4h1v1h-1zM1 5h1v1h-1zM3 5h1v1h-1zM5 5h1v1h-1zM9 5h2v1h-2zM13 5h1v1h-1zM16 5h5v1h-5zM22 5h1v1h-1zM26 5h1v1h-1zM29 5h1v1h-1zM33 5h2v1h-2zM37 5h1v1h-1zM0 6h5v1h-5zM6 6h4v1h-4zM13 6h4v1h-4zM19 6h1v1h-1zM22 6h1v1h-1zM25 6h1v1h-1zM29 6h1v1h-1zM34 6h1v1h-1zM38 6h1v1h-1zM2 7h1v1h-1zM13 7h1v1h-1zM17 7h2v1h-2zM22 7h1v1h-1zM25 7h1v1h-1zM29 7h1v1h-1zM34 7h1v1h-1zM38 7h1v1h-1zM2 8h1v1h-1zM13 8h4v1h-4zM19 8h4v1h-4zM25 8h1v1h-1zM29 8h1v1h-1zM34 8h2v1h-2zM38 8h1v1h-1zM1 9h3v1h-3zM5 9h6v1h-6zM13 9h1v1h-1zM17 9h3v1h-3zM22 9h1v1h-1zM25 9h1v1h-1zM29 9h1v1h-1zM34 9h1v1h-1zM38 9h1v1h-1zM1 10h1v1h-1zM6 10h1v1h-1zM13 10h1v1h-1zM15 10h3v1h-3zM22 10h1v1h-1zM25 10h1v1h-1zM29 10h1v1h-1zM34 10h1v1h-1zM38 10h1v1h-1zM3 11h1v1h-1zM6 11h1v1h-1zM9 11h1v1h-1zM13 11h1v1h-1zM18 11h2v1h-2zM22 11h1v1h-1zM25 11h1v1h-1zM29 11h1v1h-1zM33 11h2v1h-2zM38 11h1v1h-1zM0 12h3v1h-3zM5 12h1v1h-1zM8 12h3v1h-3zM13 12h10v1h-10zM25 12h1v1h-1zM29 12h5v1h-5zM37 12h1v1h-1zM5 13h3v1h-3zM10 13h1v1h-1zM13 13h1v1h-1zM22 13h1v1h-1zM26 13h1v1h-1zM37 13h1v1h-1zM26 14h1v1h-1zM37 14h1v1h-1z"/><rect x="1191" y="20" width="8" height="1"/><path transform="translate(1214,7)" d="M2 2h1v1h-1zM13 2h1v1h-1zM19 2h1v1h-1zM2 3h1v1h-1zM6 3h5v1h-5zM14 3h2v1h-2zM19 3h1v1h-1zM26 3h1v1h-1zM37 3h1v1h-1zM2 4h1v1h-1zM16 4h7v1h-7zM26 4h1v1h-1zM29 4h2v1h-2zM34 4h1v1h-1zM38 4h1v1h-1zM1 5h4v1h-4zM19 5h1v1h-1zM26 5h1v1h-1zM29 5h2v1h-2zM34 5h1v1h-1zM38 5h1v1h-1zM2 6h1v1h-1zM13 6h2v1h-2zM19 6h1v1h-1zM25 6h1v1h-1zM29 6h1v1h-1zM31 6h1v1h-1zM34 6h1v1h-1zM39 6h1v1h-1zM2 7h2v1h-2zM5 7h6v1h-6zM19 7h1v1h-1zM25 7h1v1h-1zM29 7h1v1h-1zM31 7h1v1h-1zM34 7h1v1h-1zM39 7h1v1h-1zM1 8h2v1h-2zM4 8h1v1h-1zM8 8h1v1h-1zM16 8h7v1h-7zM25 8h1v1h-1zM29 8h1v1h-1zM32 8h1v1h-1zM34 8h1v1h-1zM39 8h1v1h-1zM1 9h2v1h-2zM6 9h1v1h-1zM8 9h2v1h-2zM15 9h1v1h-1zM19 9h1v1h-1zM25 9h1v1h-1zM29 9h1v1h-1zM32 9h1v1h-1zM34 9h1v1h-1zM39 9h1v1h-1zM0 10h1v1h-1zM2 10h1v1h-1zM5 10h1v1h-1zM8 10h1v1h-1zM10 10h1v1h-1zM14 10h1v1h-1zM19 10h1v1h-1zM25 10h1v1h-1zM29 10h1v1h-1zM33 10h2v1h-2zM39 10h1v1h-1zM2 11h1v1h-1zM5 11h1v1h-1zM8 11h1v1h-1zM10 11h1v1h-1zM14 11h1v1h-1zM19 11h1v1h-1zM25 11h1v1h-1zM29 11h1v1h-1zM33 11h2v1h-2zM39 11h1v1h-1zM2 12h1v1h-1zM8 12h1v1h-1zM13 12h1v1h-1zM19 12h1v1h-1zM25 12h1v1h-1zM29 12h1v1h-1zM34 12h1v1h-1zM38 12h1v1h-1zM2 13h1v1h-1zM6 13h2v1h-2zM13 13h1v1h-1zM16 13h8v1h-8zM26 13h1v1h-1zM38 13h1v1h-1zM26 14h1v1h-1zM38 14h1v1h-1z"/><rect x="1242" y="20" width="9" height="1"/><path transform="translate(1265,7)" d="M3 2h1v1h-1zM6 2h1v1h-1zM19 2h1v1h-1zM2 3h1v1h-1zM6 3h5v1h-5zM13 3h4v1h-4zM19 3h1v1h-1zM26 3h1v1h-1zM38 3h1v1h-1zM2 4h1v1h-1zM5 4h2v1h-2zM10 4h1v1h-1zM16 4h1v1h-1zM19 4h1v1h-1zM26 4h1v1h-1zM29 4h2v1h-2zM35 4h2v1h-2zM39 4h1v1h-1zM1 5h2v1h-2zM5 5h1v1h-1zM7 5h1v1h-1zM9 5h1v1h-1zM16 5h1v1h-1zM18 5h5v1h-5zM26 5h1v1h-1zM29 5h2v1h-2zM35 5h2v1h-2zM39 5h1v1h-1zM1 6h3v1h-3zM7 6h2v1h-2zM16 6h1v1h-1zM18 6h1v1h-1zM22 6h1v1h-1zM25 6h1v1h-1zM29 6h2v1h-2zM34 6h1v1h-1zM36 6h1v1h-1zM40 6h1v1h-1zM0 7h1v1h-1zM2 7h1v1h-1zM4 7h3v1h-3zM9 7h3v1h-3zM13 7h5v1h-5zM19 7h1v1h-1zM21 7h1v1h-1zM25 7h1v1h-1zM29 7h1v1h-1zM31 7h1v1h-1zM34 7h3v1h-3zM40 7h1v1h-1zM2 8h2v1h-2zM7 8h2v1h-2zM13 8h1v1h-1zM19 8h1v1h-1zM21 8h1v1h-1zM25 8h1v1h-1zM29 8h1v1h-1zM31 8h1v1h-1zM33 8h1v1h-1zM35 8h2v1h-2zM40 8h1v1h-1zM2 9h2v1h-2zM5 9h2v1h-2zM9 9h1v1h-1zM13 9h1v1h-1zM19 9h1v1h-1zM21 9h1v1h-1zM25 9h1v1h-1zM29 9h1v1h-1zM31 9h1v1h-1zM33 9h1v1h-1zM35 9h2v1h-2zM40 9h1v1h-1zM2 10h2v1h-2zM7 10h2v1h-2zM13 10h1v1h-1zM20 10h1v1h-1zM25 10h1v1h-1zM29 10h1v1h-1zM32 10h2v1h-2zM35 10h2v1h-2zM40 10h1v1h-1zM2 11h1v1h-1zM6 11h1v1h-1zM10 11h1v1h-1zM13 11h1v1h-1zM15 11h2v1h-2zM19 11h3v1h-3zM25 11h1v1h-1zM29 11h1v1h-1zM32 11h1v1h-1zM35 11h2v1h-2zM40 11h1v1h-1zM2 12h1v1h-1zM8 12h2v1h-2zM13 12h2v1h-2zM18 12h2v1h-2zM21 12h2v1h-2zM25 12h1v1h-1zM29 12h1v1h-1zM35 12h2v1h-2zM39 12h1v1h-1zM2 13h1v1h-1zM5 13h3v1h-3zM17 13h1v1h-1zM22 13h1v1h-1zM26 13h1v1h-1zM39 13h1v1h-1zM26 14h1v1h-1zM39 14h1v1h-1z"/><rect x="1293" y="20" width="10" height="1"/><path transform="translate(1317,6)" d="M5 3h1v1h-1zM1 4h10v1h-10zM14 4h9v1h-9zM26 4h1v1h-1zM39 4h1v1h-1zM1 5h1v1h-1zM4 5h1v1h-1zM7 5h1v1h-1zM10 5h1v1h-1zM14 5h1v1h-1zM22 5h1v1h-1zM26 5h1v1h-1zM28 5h2v1h-2zM33 5h1v1h-1zM37 5h1v1h-1zM40 5h1v1h-1zM3 6h1v1h-1zM8 6h2v1h-2zM14 6h1v1h-1zM22 6h1v1h-1zM26 6h1v1h-1zM29 6h1v1h-1zM32 6h2v1h-2zM37 6h1v1h-1zM40 6h1v1h-1zM1 7h2v1h-2zM5 7h1v1h-1zM10 7h1v1h-1zM14 7h1v1h-1zM22 7h1v1h-1zM25 7h1v1h-1zM29 7h1v1h-1zM32 7h2v1h-2zM37 7h1v1h-1zM41 7h1v1h-1zM2 8h8v1h-8zM14 8h1v1h-1zM22 8h1v1h-1zM25 8h1v1h-1zM29 8h1v1h-1zM32 8h1v1h-1zM34 8h1v1h-1zM36 8h1v1h-1zM41 8h1v1h-1zM2 9h1v1h-1zM4 9h4v1h-4zM9 9h1v1h-1zM14 9h1v1h-1zM22 9h1v1h-1zM25 9h1v1h-1zM29 9h1v1h-1zM32 9h1v1h-1zM34 9h1v1h-1zM36 9h1v1h-1zM41 9h1v1h-1zM2 10h2v1h-2zM7 10h1v1h-1zM9 10h1v1h-1zM14 10h1v1h-1zM22 10h1v1h-1zM25 10h1v1h-1zM29 10h1v1h-1zM31 10h1v1h-1zM34 10h1v1h-1zM36 10h1v1h-1zM41 10h1v1h-1zM2 11h1v1h-1zM5 11h2v1h-2zM9 11h1v1h-1zM14 11h1v1h-1zM22 11h1v1h-1zM25 11h1v1h-1zM30 11h2v1h-2zM34 11h1v1h-1zM36 11h1v1h-1zM41 11h1v1h-1zM2 12h1v1h-1zM5 12h1v1h-1zM7 12h1v1h-1zM9 12h1v1h-1zM14 12h1v1h-1zM22 12h1v1h-1zM25 12h1v1h-1zM30 12h2v1h-2zM35 12h2v1h-2zM41 12h1v1h-1zM2 13h1v1h-1zM4 13h1v1h-1zM9 13h1v1h-1zM14 13h9v1h-9zM25 13h1v1h-1zM30 13h2v1h-2zM35 13h1v1h-1zM40 13h1v1h-1zM2 14h8v1h-8zM22 14h1v1h-1zM26 14h1v1h-1zM40 14h1v1h-1zM26 15h1v1h-1zM40 15h1v1h-1z"/><rect x="1345" y="20" width="11" height="1"/><path transform="translate(1370,6)" d="M3 3h1v1h-1zM7 3h4v1h-4zM1 4h5v1h-5zM7 4h1v1h-1zM10 4h1v1h-1zM13 4h4v1h-4zM19 4h1v1h-1zM26 4h1v1h-1zM37 4h1v1h-1zM3 5h1v1h-1zM7 5h1v1h-1zM9 5h1v1h-1zM13 5h1v1h-1zM16 5h1v1h-1zM19 5h1v1h-1zM26 5h1v1h-1zM29 5h1v1h-1zM34 5h2v1h-2zM38 5h1v1h-1zM1 6h5v1h-5zM7 6h1v1h-1zM9 6h1v1h-1zM13 6h4v1h-4zM18 6h5v1h-5zM26 6h1v1h-1zM29 6h1v1h-1zM34 6h2v1h-2zM38 6h1v1h-1zM1 7h5v1h-5zM7 7h1v1h-1zM10 7h1v1h-1zM13 7h1v1h-1zM16 7h1v1h-1zM19 7h1v1h-1zM22 7h1v1h-1zM25 7h1v1h-1zM29 7h1v1h-1zM34 7h2v1h-2zM39 7h1v1h-1zM3 8h1v1h-1zM7 8h1v1h-1zM10 8h1v1h-1zM13 8h1v1h-1zM16 8h1v1h-1zM19 8h1v1h-1zM22 8h1v1h-1zM25 8h1v1h-1zM29 8h1v1h-1zM34 8h2v1h-2zM39 8h1v1h-1zM2 9h1v1h-1zM7 9h1v1h-1zM9 9h1v1h-1zM13 9h4v1h-4zM19 9h1v1h-1zM22 9h1v1h-1zM25 9h1v1h-1zM29 9h7v1h-7zM39 9h1v1h-1zM1 10h1v1h-1zM5 10h1v1h-1zM13 10h1v1h-1zM16 10h1v1h-1zM19 10h1v1h-1zM22 10h1v1h-1zM25 10h1v1h-1zM29 10h1v1h-1zM34 10h2v1h-2zM39 10h1v1h-1zM2 11h8v1h-8zM13 11h1v1h-1zM16 11h2v1h-2zM19 11h1v1h-1zM22 11h1v1h-1zM25 11h1v1h-1zM29 11h1v1h-1zM34 11h2v1h-2zM39 11h1v1h-1zM2 12h1v1h-1zM5 12h1v1h-1zM9 12h1v1h-1zM13 12h4v1h-4zM18 12h1v1h-1zM22 12h1v1h-1zM25 12h1v1h-1zM29 12h1v1h-1zM34 12h2v1h-2zM39 12h1v1h-1zM2 13h1v1h-1zM5 13h1v1h-1zM8 13h2v1h-2zM17 13h2v1h-2zM22 13h1v1h-1zM25 13h1v1h-1zM29 13h1v1h-1zM34 13h2v1h-2zM38 13h1v1h-1zM5 14h1v1h-1zM17 14h1v1h-1zM20 14h2v1h-2zM26 14h1v1h-1zM38 14h1v1h-1zM26 15h1v1h-1zM38 15h1v1h-1z"/><rect x="1398" y="20" width="9" height="1"/></svg>
<div class="a" style="left:838px;top:25px;width:237px;height:27px;border-top:1px solid #fff;border-left:1px solid #fff;border-right:1px solid #808080;border-bottom:1px solid #808080"></div>
<div class="a" style="left:1076px;top:25px;width:309px;height:27px;border-top:1px solid #fff;border-left:1px solid #fff;border-bottom:1px solid #808080"></div>
<div class="a" style="left:837px;top:53px;width:548px;height:1px;background:#6a6a6a"></div>
<div class="a" style="left:840px;top:28px;width:2px;height:22px;border-left:1px solid #fff;border-right:1px solid #808080;background:#ece9e0"></div>
<div class="a" style="left:843px;top:28px;width:2px;height:22px;border-left:1px solid #fff;border-right:1px solid #808080;background:#ece9e0"></div>
<div class="a" style="left:1079px;top:28px;width:2px;height:22px;border-left:1px solid #fff;border-right:1px solid #808080;background:#ece9e0"></div>
<div class="a" style="left:1082px;top:28px;width:2px;height:22px;border-left:1px solid #fff;border-right:1px solid #808080;background:#ece9e0"></div>
<div class="a" style="left:850px;top:30px;width:174px;height:20px;background:#fff;border-top:2px solid #404040;border-left:2px solid #404040;border-bottom:1px solid #fff;border-right:1px solid #fff"></div>
<div class="a" style="left:1007px;top:32px;width:16px;height:17px;background:#d4d0c8;border-top:1px solid #fff;border-left:1px solid #fff;border-right:1px solid #404040;border-bottom:1px solid #404040"></div>
<svg class="a" style="left:1011px;top:38px" width="8" height="5"><path d="M0 0H7L3.5 4Z" fill="#000"/></svg>
<svg class="a" style="left:0;top:0" width="1385" height="54" fill="#000" shape-rendering="crispEdges"><path transform="translate(858,31)" d="M18 2h1v1h-1zM20 2h1v1h-1zM27 2h1v1h-1zM51 2h1v1h-1zM61 2h1v1h-1zM67 2h1v1h-1zM76 2h1v1h-1zM14 3h1v1h-1zM18 3h1v1h-1zM20 3h1v1h-1zM25 3h10v1h-10zM37 3h10v1h-10zM51 3h1v1h-1zM62 3h2v1h-2zM67 3h1v1h-1zM73 3h3v1h-3zM78 3h5v1h-5zM2 4h8v1h-8zM14 4h1v1h-1zM18 4h5v1h-5zM27 4h1v1h-1zM31 4h1v1h-1zM37 4h1v1h-1zM41 4h1v1h-1zM46 4h1v1h-1zM51 4h8v1h-8zM64 4h7v1h-7zM74 4h1v1h-1zM76 4h1v1h-1zM78 4h1v1h-1zM81 4h1v1h-1zM13 5h1v1h-1zM15 5h1v1h-1zM17 5h1v1h-1zM20 5h1v1h-1zM26 5h8v1h-8zM37 5h1v1h-1zM40 5h5v1h-5zM46 5h1v1h-1zM50 5h1v1h-1zM67 5h1v1h-1zM73 5h2v1h-2zM76 5h1v1h-1zM79 5h2v1h-2zM13 6h5v1h-5zM20 6h1v1h-1zM26 6h1v1h-1zM33 6h1v1h-1zM37 6h4v1h-4zM43 6h1v1h-1zM46 6h1v1h-1zM50 6h1v1h-1zM61 6h2v1h-2zM67 6h1v1h-1zM74 6h1v1h-1zM79 6h1v1h-1zM81 6h1v1h-1zM14 7h1v1h-1zM18 7h5v1h-5zM26 7h8v1h-8zM37 7h1v1h-1zM41 7h2v1h-2zM46 7h1v1h-1zM50 7h9v1h-9zM67 7h1v1h-1zM73 7h6v1h-6zM80 7h1v1h-1zM82 7h1v1h-1zM14 8h1v1h-1zM17 8h1v1h-1zM20 8h1v1h-1zM26 8h1v1h-1zM33 8h1v1h-1zM37 8h4v1h-4zM43 8h4v1h-4zM58 8h1v1h-1zM64 8h7v1h-7zM74 8h2v1h-2zM80 8h1v1h-1zM13 9h3v1h-3zM18 9h5v1h-5zM26 9h8v1h-8zM37 9h1v1h-1zM41 9h3v1h-3zM46 9h1v1h-1zM57 9h1v1h-1zM63 9h1v1h-1zM67 9h1v1h-1zM73 9h2v1h-2zM76 9h1v1h-1zM78 9h5v1h-5zM17 10h1v1h-1zM20 10h1v1h-1zM29 10h1v1h-1zM37 10h1v1h-1zM39 10h3v1h-3zM46 10h1v1h-1zM49 10h7v1h-7zM57 10h1v1h-1zM62 10h1v1h-1zM67 10h1v1h-1zM73 10h2v1h-2zM80 10h1v1h-1zM15 11h3v1h-3zM20 11h1v1h-1zM25 11h10v1h-10zM37 11h1v1h-1zM42 11h2v1h-2zM46 11h1v1h-1zM57 11h1v1h-1zM62 11h1v1h-1zM67 11h1v1h-1zM72 11h1v1h-1zM74 11h1v1h-1zM77 11h6v1h-6zM1 12h10v1h-10zM13 12h2v1h-2zM18 12h5v1h-5zM29 12h1v1h-1zM37 12h10v1h-10zM57 12h1v1h-1zM61 12h1v1h-1zM67 12h1v1h-1zM74 12h1v1h-1zM80 12h1v1h-1zM29 13h1v1h-1zM37 13h1v1h-1zM46 13h1v1h-1zM54 13h3v1h-3zM61 13h1v1h-1zM64 13h8v1h-8zM80 13h1v1h-1z"/></svg>
<svg class="a" style="left:1028px;top:32px" width="16" height="16" viewBox="0 0 16 16">
<rect x="0" y="0" width="16" height="16" fill="#4a78a6"/>
<g transform="translate(8,8)" fill="#444" stroke="#e8f0f8" stroke-width="0.8"><rect x="-1.5" y="-7.2" width="3" height="3.5" transform="rotate(0)"/><rect x="-1.5" y="-7.2" width="3" height="3.5" transform="rotate(45)"/><rect x="-1.5" y="-7.2" width="3" height="3.5" transform="rotate(90)"/><rect x="-1.5" y="-7.2" width="3" height="3.5" transform="rotate(135)"/><rect x="-1.5" y="-7.2" width="3" height="3.5" transform="rotate(180)"/><rect x="-1.5" y="-7.2" width="3" height="3.5" transform="rotate(225)"/><rect x="-1.5" y="-7.2" width="3" height="3.5" transform="rotate(270)"/><rect x="-1.5" y="-7.2" width="3" height="3.5" transform="rotate(315)"/><circle r="5"/></g>
<g transform="translate(8,8)" fill="#444"><rect x="-1.5" y="-7.2" width="3" height="3.5" transform="rotate(0)"/><rect x="-1.5" y="-7.2" width="3" height="3.5" transform="rotate(45)"/><rect x="-1.5" y="-7.2" width="3" height="3.5" transform="rotate(90)"/><rect x="-1.5" y="-7.2" width="3" height="3.5" transform="rotate(135)"/><rect x="-1.5" y="-7.2" width="3" height="3.5" transform="rotate(180)"/><rect x="-1.5" y="-7.2" width="3" height="3.5" transform="rotate(225)"/><rect x="-1.5" y="-7.2" width="3" height="3.5" transform="rotate(270)"/><rect x="-1.5" y="-7.2" width="3" height="3.5" transform="rotate(315)"/><circle r="5"/></g>
<circle cx="8" cy="8" r="3" fill="#5a88b0" stroke="#e8f4ff" stroke-width="0.9"/>
</svg>
<svg class="a" style="left:1051px;top:32px" width="16" height="16" viewBox="0 0 16 16">
<path d="M1.5 1V15M1 14.5H15M14.5 1V15M1 1.5H15" stroke="#888" stroke-dasharray="1 2" fill="none"/>
<path d="M1.5 8L7.5 2.5L15 8H13.5V14.5H3V8Z" fill="#1e1e22" stroke="#fff" stroke-width="1"/>
<rect x="3" y="3" width="2" height="4" fill="#1e1e22"/>
</svg>
<svg class="a" style="left:1088px;top:28px" width="297" height="24" viewBox="1088 28 297 24">
<defs><linearGradient id="gd" x1="0" y1="0" x2="1" y2="1"><stop offset="0" stop-color="#f4fbff"/><stop offset="1" stop-color="#a8d4e0"/></linearGradient>
<linearGradient id="gb" x1="0" y1="0" x2="0" y2="1"><stop offset="0" stop-color="#90c0f0"/><stop offset="1" stop-color="#3a6ac0"/></linearGradient></defs>
<path d="M1092.5 34.5H1104.5L1107.5 37.5V46.5H1092.5Z" fill="url(#gd)" stroke="#3a5a8a"/>
<path d="M1104.5 34.5V37.5H1107.5" fill="#3a5a8a" stroke="#3a5a8a"/>
<path d="M1115.5 36L1126 32.5L1130.5 34L1130 43L1118.5 47.8Z" fill="#e8c040" stroke="#c8a868" stroke-width="0.9"/>
<path d="M1117 37L1125 34L1123 41L1118 45Z" fill="#f0f4f0"/>
<path d="M1125 38.5Q1121.5 40 1123.5 44.5" stroke="#142040" stroke-width="1.8" fill="none"/><path d="M1122 43.5L1131 45.5L1126 48.5Z" fill="#1a2a6a"/>
<rect x="1139.5" y="33.5" width="13" height="13" rx="0.8" fill="#5a88d8" stroke="#1a2a5a"/>
<rect x="1142" y="34" width="8" height="6" fill="#f4f8ff"/><path d="M1143 36.5H1149M1143 38.5H1149" stroke="#a0b0c8" stroke-width="0.6"/>
<rect x="1141.5" y="41.5" width="9" height="5" fill="#8ab4f0"/><rect x="1146" y="42" width="2.5" height="4" fill="#e8f0ff"/>
<path d="M1160.5 31V49" stroke="#808080"/><path d="M1161.5 31V49" stroke="#fff"/>
<path d="M1169.5 35L1175 33L1177.5 38L1172 40Z" fill="#f4f4fc" stroke="#505060" stroke-width="0.9"/>
<path d="M1169 41L1176 38.5L1182 41V44L1176 46.5L1169 44Z" fill="#d8d8ec" stroke="#303040" stroke-width="1"/>
<path d="M1169 41L1176 43.5L1182 41M1176 43.5V46.5" stroke="#404050" stroke-width="0.8" fill="none"/>
<path d="M1190.5 32.5H1202.5L1205.5 35.5V44.5H1190.5Z" fill="#d4ecf8" stroke="#4a6a8a"/>
<path d="M1202.5 32.5V35.5H1205.5" fill="#4a6a8a" stroke="#4a6a8a"/>
<circle cx="1200.5" cy="40" r="3.2" fill="#a8b8d0" stroke="#4a5a70"/><path d="M1198 42.5L1194 47.5" stroke="#6a5020" stroke-width="1.6"/>
<ellipse cx="1224.5" cy="37" rx="3.8" ry="5" fill="#5ab8d0" stroke="#1a6a7a" stroke-width="0.8"/>
<path d="M1213.5 43L1219 41L1226 43.5V46L1220 48.5L1213.5 46Z" fill="#e4e4f4" stroke="#303050" stroke-width="1"/>
<circle cx="1217.5" cy="38" r="4.2" fill="#e0b818" stroke="#a08010" stroke-width="0.7"/>
<circle cx="1216.3" cy="37.3" r="0.6" fill="#333"/><circle cx="1218.7" cy="37.3" r="0.6" fill="#333"/><circle cx="1217.5" cy="39.5" r="0.6" fill="#333"/>
<path d="M1236 40L1241 36L1245 40L1241 48Z" fill="#eef4fa" stroke="#c8d4e0" stroke-width="0.6"/>
<circle cx="1246" cy="38.5" r="5.5" fill="#2a70b0"/><ellipse cx="1247" cy="37.5" rx="3" ry="2.5" fill="#8ad0e8"/>
<path d="M1241 42Q1247 41 1251.5 35" stroke="#b0e040" stroke-width="1.4" fill="none"/><path d="M1244 43L1245 45" stroke="#c03030" stroke-width="1.4"/>
<path d="M1244 33L1246 34" stroke="#d09030" stroke-width="1.2"/>
<path d="M1258.5 31V49" stroke="#808080"/><path d="M1259.5 31V49" stroke="#fff"/>
<path d="M1267 46L1271 41L1273 43Z" fill="#222"/><path d="M1272 42L1280 35" stroke="#6a4a2a" stroke-width="2"/>
<path d="M1297 44L1300 38L1298 38L1304 32L1301 38L1303 38Z" fill="#f0d020" stroke="#a08010" stroke-width="0.5"/>
<rect x="1289.5" y="40.5" width="7" height="6" fill="#f08a50" stroke="#2a4a8a" stroke-width="0.8"/><rect x="1288" y="45" width="2.5" height="2.5" fill="#2a5ab0"/>
<path d="M1310.5 31V49" stroke="#808080"/><path d="M1311.5 31V49" stroke="#fff"/>
<path d="M1334 36Q1331 31 1326 33Q1322 35 1322 41" stroke="#1a3a7a" stroke-width="2.6" fill="none"/>
<path d="M1318 41L1328 41L1323 48Z" fill="#1a3a7a"/>
<path d="M1341 38.5H1347L1344 41Z" fill="#101060"/>
<path d="M1355 36Q1358 31 1363 33Q1367 35 1367 41" stroke="#c4c4c4" stroke-width="2.6" fill="none"/>
<path d="M1371 41L1361 41L1366 48Z" fill="#c4c4c4"/>
<path d="M1379 38.5H1385L1382 41Z" fill="#a8a8a8"/>
</svg>
<svg class="a" style="left:839px;top:54px" width="546" height="625" viewBox="839 54 546 625"><g fill="none" stroke="#fff" stroke-width="1" shape-rendering="crispEdges"><path d="M936.5 86V679"/><path d="M937 88.5H1265M1339 88.5H1385"/><path d="M919 158.5H937M989 158.5H1006"/><path d="M989.5 148V383M989.5 424V569M989.5 610V679"/><path d="M855 222.5H973"/><path d="M855 309.5H959"/><path d="M857.5 222V256.5M857.5 272V309"/><path d="M1301.5 222V396M1301.5 410V583M1301.5 597V679"/><path d="M858.5 636V679"/></g><g fill="none" stroke="#fff" stroke-width="1" shape-rendering="crispEdges"><path d="M937 88.5L946 86.5V90.5Z" stroke-width="0.8"/><path d="M936.5 158.5L928 156.5V160.5Z" stroke-width="0.8"/><path d="M989.5 158.5L998 156.5V160.5Z" stroke-width="0.8"/><path d="M857.5 222.5L855.5 230V230M857.5 222.5L859.5 230H855.5Z" stroke-width="0.8"/><path d="M857.5 309L855.5 301.5H859.5Z" stroke-width="0.8"/><path d="M1265 82L1268.5 78V97.5M1265 97.5H1272"/><path d="M1280 78H1284L1287 81.3V94.3L1284 97.6H1280L1277 94.3V81.3ZM1295 78H1299L1302 81.3V94.3L1299 97.6H1295L1292 94.3V81.3ZM1317 78H1321L1324 81.3V94.3L1321 97.6H1317L1314 94.3V81.3ZM1331.7 78H1335.7L1338.7 81.3V94.3L1335.7 97.6H1331.7L1328.7 94.3V81.3Z"/><path d="M1308.5 94V98"/><path d="M938 149.5H952L942 167.5"/><path d="M956.5 163V167.5"/><path d="M964.5 149H969.0L972.0 152.3V164.29999999999998L969.0 167.6H964.5L961.5 164.29999999999998V152.3ZM980 149H984.5L987.5 152.3V164.29999999999998L984.5 167.6H980L977 164.29999999999998V152.3Z"/><path d="M839 259L841 256.2H849L852 259V262.8L849 266H842.6L839 268.7M839 275.5H852"/><path d="M866 256.2H870L873 259.5V272.5L870 275.8H866L863 272.5V259.5ZM881 256.2H885L888 259.5V272.5L885 275.8H881L878 272.5V259.5Z"/><path d="M973.5 222.5Q974 235.5 978 235.8L1228.7 222.5H1385"/><path d="M937 235Q940 223 950 223"/><circle cx="962.6" cy="309.5" r="3.5" shape-rendering="auto"/><path d="M854 592.5L860.5 599.5L867 592.5M860.5 599.5V608.5"/><path d="M858.5 620L853.5 635.5H864.5Z"/><path d="M858.5 623V635"/><path d="M1385 396.5H1228L980 383.0Q973.5 383.0 973.5 390.0V416.5Q973.5 423.5 980 423.5L1228 409.5H1385"/><path d="M1385 583.2H1228L980 569.7Q973.5 569.7 973.5 576.7V603.2Q973.5 610.2 980 610.2L1228 596.2H1385"/></g><g fill="none" stroke="#fff" stroke-width="1" shape-rendering="crispEdges"><rect x="1016.5" y="264.5" width="6" height="3"/><rect x="1016.5" y="355.5" width="6" height="4"/><rect x="1035.5" y="272.5" width="6" height="2"/><rect x="1035.5" y="276.5" width="6" height="2"/><rect x="1035.5" y="281.5" width="6" height="2"/><rect x="1035.5" y="285.5" width="6" height="2"/><rect x="1035.5" y="290.5" width="6" height="2"/><rect x="1035.5" y="294.5" width="6" height="2"/><rect x="1035.5" y="299.5" width="6" height="2"/><rect x="1035.5" y="303.5" width="6" height="2"/><rect x="1035.5" y="308.5" width="6" height="2"/><rect x="1035.5" y="312.5" width="6" height="2"/><rect x="1035.5" y="316.5" width="6" height="2"/><rect x="1035.5" y="321.5" width="6" height="2"/><rect x="1035.5" y="325.5" width="6" height="2"/><rect x="1035.5" y="330.5" width="6" height="2"/><rect x="1035.5" y="334.5" width="6" height="2"/><rect x="1035.5" y="339.5" width="6" height="2"/><rect x="1035.5" y="343.5" width="6" height="2"/><rect x="1035.5" y="347.5" width="6" height="2"/><rect x="1070.5" y="302.5" width="3.5" height="3.5"/><rect x="1070.5" y="309.5" width="3.5" height="3.5"/><rect x="1127.5" y="303.5" width="3.5" height="3.5"/><rect x="1127.5" y="310.5" width="3.5" height="3.5"/><rect x="1238.5" y="268.5" width="23" height="89"/><rect x="1235.5" y="276.5" width="5" height="2"/><rect x="1235.5" y="280.5" width="5" height="2"/><rect x="1235.5" y="284.5" width="5" height="2"/><rect x="1235.5" y="289.5" width="5" height="2"/><rect x="1235.5" y="293.5" width="5" height="2"/><rect x="1235.5" y="298.5" width="5" height="2"/><rect x="1235.5" y="302.5" width="5" height="2"/><rect x="1235.5" y="306.5" width="5" height="2"/><rect x="1235.5" y="311.5" width="5" height="2"/><rect x="1235.5" y="315.5" width="5" height="2"/><rect x="1235.5" y="320.5" width="5" height="2"/><rect x="1235.5" y="324.5" width="5" height="2"/><rect x="1235.5" y="328.5" width="5" height="2"/><rect x="1235.5" y="333.5" width="5" height="2"/><rect x="1235.5" y="337.5" width="5" height="2"/><rect x="1235.5" y="342.5" width="5" height="2"/><rect x="1235.5" y="346.5" width="5" height="2"/><rect x="1253.5" y="268.5" width="8" height="3"/><rect x="1253.5" y="353.5" width="8" height="4"/><rect x="1253.5" y="272.5" width="8" height="2"/><rect x="1253.5" y="277.5" width="8" height="2"/><rect x="1253.5" y="281.5" width="8" height="2"/><rect x="1253.5" y="285.5" width="8" height="2"/><rect x="1253.5" y="290.5" width="8" height="2"/><rect x="1253.5" y="294.5" width="8" height="2"/><rect x="1253.5" y="298.5" width="8" height="2"/><rect x="1253.5" y="302.5" width="8" height="2"/><rect x="1253.5" y="307.5" width="8" height="2"/><rect x="1253.5" y="311.5" width="8" height="2"/><rect x="1253.5" y="315.5" width="8" height="2"/><rect x="1253.5" y="319.5" width="8" height="2"/><rect x="1253.5" y="324.5" width="8" height="2"/><rect x="1253.5" y="328.5" width="8" height="2"/><rect x="1253.5" y="332.5" width="8" height="2"/><rect x="1253.5" y="336.5" width="8" height="2"/><rect x="1253.5" y="341.5" width="8" height="2"/><rect x="1253.5" y="345.5" width="8" height="2"/><rect x="1253.5" y="349.5" width="8" height="2"/><rect x="1375.5" y="289.5" width="6" height="10"/><rect x="1375.5" y="319.5" width="6" height="10"/><path d="M1374.5 294V325M1375 294.5H1385M1375 324.5H1385"/><rect x="1016.5" y="451.5" width="6" height="3"/><rect x="1016.5" y="542.5" width="6" height="4"/><rect x="1035.5" y="459.5" width="6" height="2"/><rect x="1035.5" y="463.5" width="6" height="2"/><rect x="1035.5" y="468.5" width="6" height="2"/><rect x="1035.5" y="472.5" width="6" height="2"/><rect x="1035.5" y="477.5" width="6" height="2"/><rect x="1035.5" y="481.5" width="6" height="2"/><rect x="1035.5" y="486.5" width="6" height="2"/><rect x="1035.5" y="490.5" width="6" height="2"/><rect x="1035.5" y="495.5" width="6" height="2"/><rect x="1035.5" y="499.5" width="6" height="2"/><rect x="1035.5" y="503.5" width="6" height="2"/><rect x="1035.5" y="508.5" width="6" height="2"/><rect x="1035.5" y="512.5" width="6" height="2"/><rect x="1035.5" y="517.5" width="6" height="2"/><rect x="1035.5" y="521.5" width="6" height="2"/><rect x="1035.5" y="526.5" width="6" height="2"/><rect x="1035.5" y="530.5" width="6" height="2"/><rect x="1035.5" y="534.5" width="6" height="2"/><rect x="1070.5" y="489.5" width="3.5" height="3.5"/><rect x="1070.5" y="496.5" width="3.5" height="3.5"/><rect x="1127.5" y="490.5" width="3.5" height="3.5"/><rect x="1127.5" y="497.5" width="3.5" height="3.5"/><rect x="1238.5" y="455.5" width="23" height="89"/><rect x="1235.5" y="462.5" width="5" height="2"/><rect x="1235.5" y="467.5" width="5" height="2"/><rect x="1235.5" y="471.5" width="5" height="2"/><rect x="1235.5" y="476.5" width="5" height="2"/><rect x="1235.5" y="480.5" width="5" height="2"/><rect x="1235.5" y="484.5" width="5" height="2"/><rect x="1235.5" y="489.5" width="5" height="2"/><rect x="1235.5" y="493.5" width="5" height="2"/><rect x="1235.5" y="498.5" width="5" height="2"/><rect x="1235.5" y="502.5" width="5" height="2"/><rect x="1235.5" y="506.5" width="5" height="2"/><rect x="1235.5" y="511.5" width="5" height="2"/><rect x="1235.5" y="515.5" width="5" height="2"/><rect x="1235.5" y="520.5" width="5" height="2"/><rect x="1235.5" y="524.5" width="5" height="2"/><rect x="1235.5" y="528.5" width="5" height="2"/><rect x="1235.5" y="533.5" width="5" height="2"/><rect x="1253.5" y="455.5" width="8" height="3"/><rect x="1253.5" y="540.5" width="8" height="4"/><rect x="1253.5" y="460.5" width="8" height="2"/><rect x="1253.5" y="464.5" width="8" height="2"/><rect x="1253.5" y="468.5" width="8" height="2"/><rect x="1253.5" y="472.5" width="8" height="2"/><rect x="1253.5" y="477.5" width="8" height="2"/><rect x="1253.5" y="481.5" width="8" height="2"/><rect x="1253.5" y="485.5" width="8" height="2"/><rect x="1253.5" y="489.5" width="8" height="2"/><rect x="1253.5" y="494.5" width="8" height="2"/><rect x="1253.5" y="498.5" width="8" height="2"/><rect x="1253.5" y="502.5" width="8" height="2"/><rect x="1253.5" y="506.5" width="8" height="2"/><rect x="1253.5" y="511.5" width="8" height="2"/><rect x="1253.5" y="515.5" width="8" height="2"/><rect x="1253.5" y="519.5" width="8" height="2"/><rect x="1253.5" y="523.5" width="8" height="2"/><rect x="1253.5" y="528.5" width="8" height="2"/><rect x="1253.5" y="532.5" width="8" height="2"/><rect x="1253.5" y="536.5" width="8" height="2"/><rect x="1375.5" y="476.5" width="6" height="10"/><rect x="1375.5" y="506.5" width="6" height="10"/><path d="M1374.5 481V512M1375 481.5H1385M1375 511.5H1385"/><rect x="1016.5" y="637.5" width="6" height="3"/><rect x="1016.5" y="728.5" width="6" height="4"/><rect x="1035.5" y="645.5" width="6" height="2"/><rect x="1035.5" y="649.5" width="6" height="2"/><rect x="1035.5" y="654.5" width="6" height="2"/><rect x="1035.5" y="658.5" width="6" height="2"/><rect x="1035.5" y="663.5" width="6" height="2"/><rect x="1035.5" y="667.5" width="6" height="2"/><rect x="1035.5" y="672.5" width="6" height="2"/><rect x="1035.5" y="676.5" width="6" height="2"/><rect x="1035.5" y="681.5" width="6" height="2"/><rect x="1035.5" y="685.5" width="6" height="2"/><rect x="1035.5" y="689.5" width="6" height="2"/><rect x="1035.5" y="694.5" width="6" height="2"/><rect x="1035.5" y="698.5" width="6" height="2"/><rect x="1035.5" y="703.5" width="6" height="2"/><rect x="1035.5" y="707.5" width="6" height="2"/><rect x="1035.5" y="712.5" width="6" height="2"/><rect x="1035.5" y="716.5" width="6" height="2"/><rect x="1035.5" y="720.5" width="6" height="2"/><rect x="1070.5" y="675.5" width="3.5" height="3.5"/><rect x="1070.5" y="682.5" width="3.5" height="3.5"/><rect x="1127.5" y="676.5" width="3.5" height="3.5"/><rect x="1127.5" y="683.5" width="3.5" height="3.5"/><rect x="1238.5" y="641.5" width="23" height="89"/><rect x="1235.5" y="648.5" width="5" height="2"/><rect x="1235.5" y="653.5" width="5" height="2"/><rect x="1235.5" y="657.5" width="5" height="2"/><rect x="1235.5" y="662.5" width="5" height="2"/><rect x="1235.5" y="666.5" width="5" height="2"/><rect x="1235.5" y="670.5" width="5" height="2"/><rect x="1235.5" y="675.5" width="5" height="2"/><rect x="1235.5" y="679.5" width="5" height="2"/><rect x="1235.5" y="684.5" width="5" height="2"/><rect x="1235.5" y="688.5" width="5" height="2"/><rect x="1235.5" y="692.5" width="5" height="2"/><rect x="1235.5" y="697.5" width="5" height="2"/><rect x="1235.5" y="701.5" width="5" height="2"/><rect x="1235.5" y="706.5" width="5" height="2"/><rect x="1235.5" y="710.5" width="5" height="2"/><rect x="1235.5" y="714.5" width="5" height="2"/><rect x="1235.5" y="719.5" width="5" height="2"/><rect x="1253.5" y="641.5" width="8" height="3"/><rect x="1253.5" y="726.5" width="8" height="4"/><rect x="1253.5" y="646.5" width="8" height="2"/><rect x="1253.5" y="650.5" width="8" height="2"/><rect x="1253.5" y="654.5" width="8" height="2"/><rect x="1253.5" y="658.5" width="8" height="2"/><rect x="1253.5" y="663.5" width="8" height="2"/><rect x="1253.5" y="667.5" width="8" height="2"/><rect x="1253.5" y="671.5" width="8" height="2"/><rect x="1253.5" y="675.5" width="8" height="2"/><rect x="1253.5" y="680.5" width="8" height="2"/><rect x="1253.5" y="684.5" width="8" height="2"/><rect x="1253.5" y="688.5" width="8" height="2"/><rect x="1253.5" y="692.5" width="8" height="2"/><rect x="1253.5" y="697.5" width="8" height="2"/><rect x="1253.5" y="701.5" width="8" height="2"/><rect x="1253.5" y="705.5" width="8" height="2"/><rect x="1253.5" y="709.5" width="8" height="2"/><rect x="1253.5" y="714.5" width="8" height="2"/><rect x="1253.5" y="718.5" width="8" height="2"/><rect x="1253.5" y="722.5" width="8" height="2"/><rect x="1375.5" y="662.5" width="6" height="10"/><rect x="1375.5" y="692.5" width="6" height="10"/><path d="M1374.5 667V698M1375 667.5H1385M1375 697.5H1385"/></g><path d="M1348 677.5H1385M1384.5 642V679" stroke="#fff" fill="none" shape-rendering="crispEdges"/><circle cx="1383" cy="676" r="2.5" stroke="#fff" fill="none"/><g fill="#fff" shape-rendering="crispEdges"><rect x="1041" y="271" width="4" height="3"/><path d="M1047 304h3v1h-3zM1051 304h1v1h-1zM1047 305h1v1h-1zM1049 305h3v1h-3zM1047 306h1v1h-1zM1051 306h1v1h-1zM1047 307h5v1h-5zM1047 308h1v1h-1zM1051 308h1v1h-1zM1047 309h4v1h-4zM1047 310h5v1h-5zM1047 311h1v1h-1zM1049 311h1v1h-1zM1051 311h1v1h-1zM1047 312h1v1h-1zM1051 312h1v1h-1zM1047 313h5v1h-5zM1049 314h3v1h-3zM1047 315h3v1h-3zM1047 316h5v1h-5zM1050 317h1v1h-1zM1047 318h1v1h-1zM1051 318h1v1h-1zM1047 319h1v1h-1zM1051 319h1v1h-1zM1048 320h3v1h-3zM1068 301h1v1h-1zM1064 302h5v1h-5zM1064 303h1v1h-1zM1068 303h1v1h-1zM1068 304h1v1h-1zM1064 305h5v1h-5zM1068 306h1v1h-1zM1068 307h1v1h-1zM1064 308h5v1h-5zM1068 309h1v1h-1zM1067 310h1v1h-1zM1064 311h1v1h-1zM1068 311h1v1h-1zM1064 312h1v1h-1zM1068 312h1v1h-1zM1065 313h3v1h-3zM1120 301h5v1h-5zM1120 302h1v1h-1zM1122 302h1v1h-1zM1124 302h1v1h-1zM1120 303h1v1h-1zM1124 303h1v1h-1zM1124 304h1v1h-1zM1120 305h5v1h-5zM1120 306h1v1h-1zM1124 306h1v1h-1zM1124 307h1v1h-1zM1120 308h5v1h-5zM1120 309h1v1h-1zM1124 309h1v1h-1zM1121 310h1v1h-1zM1124 310h1v1h-1zM1120 311h1v1h-1zM1122 311h3v1h-3zM1120 312h1v1h-1zM1122 312h1v1h-1zM1120 313h5v1h-5zM1224 301h5v1h-5zM1224 302h1v1h-1zM1226 302h1v1h-1zM1228 302h1v1h-1zM1224 304h5v1h-5zM1224 305h2v1h-2zM1227 305h2v1h-2zM1225 306h3v1h-3zM1224 307h5v1h-5zM1224 308h1v1h-1zM1226 308h1v1h-1zM1228 308h1v1h-1zM1224 310h5v1h-5zM1225 311h3v1h-3zM1224 312h5v1h-5zM1224 314h1v1h-1zM1228 314h1v1h-1zM1224 315h1v1h-1zM1228 315h1v1h-1zM1224 316h4v1h-4zM1377 283h3v1h-3zM1381 283h4v1h-4zM1377 284h1v1h-1zM1379 284h1v1h-1zM1381 284h1v1h-1zM1384 284h1v1h-1zM1377 285h3v1h-3zM1381 285h4v1h-4zM1379 286h1v1h-1zM1381 286h1v1h-1zM1377 287h3v1h-3zM1381 287h1v1h-1z"/><path d="M1264 274L1266 276L1264 277Z"/><rect x="1041" y="458" width="4" height="3"/><path d="M1047 491h3v1h-3zM1051 491h1v1h-1zM1047 492h1v1h-1zM1049 492h3v1h-3zM1047 493h1v1h-1zM1051 493h1v1h-1zM1047 494h5v1h-5zM1047 495h1v1h-1zM1051 495h1v1h-1zM1047 496h4v1h-4zM1047 497h5v1h-5zM1047 498h1v1h-1zM1049 498h1v1h-1zM1051 498h1v1h-1zM1047 499h1v1h-1zM1051 499h1v1h-1zM1047 500h5v1h-5zM1049 501h3v1h-3zM1047 502h3v1h-3zM1047 503h5v1h-5zM1050 504h1v1h-1zM1047 505h1v1h-1zM1051 505h1v1h-1zM1047 506h1v1h-1zM1051 506h1v1h-1zM1048 507h3v1h-3zM1068 488h1v1h-1zM1064 489h5v1h-5zM1064 490h1v1h-1zM1068 490h1v1h-1zM1068 491h1v1h-1zM1064 492h5v1h-5zM1068 493h1v1h-1zM1068 494h1v1h-1zM1064 495h5v1h-5zM1068 496h1v1h-1zM1067 497h1v1h-1zM1064 498h1v1h-1zM1068 498h1v1h-1zM1064 499h1v1h-1zM1068 499h1v1h-1zM1065 500h3v1h-3zM1120 488h5v1h-5zM1120 489h1v1h-1zM1122 489h1v1h-1zM1124 489h1v1h-1zM1120 490h1v1h-1zM1124 490h1v1h-1zM1124 491h1v1h-1zM1120 492h5v1h-5zM1120 493h1v1h-1zM1124 493h1v1h-1zM1124 494h1v1h-1zM1120 495h5v1h-5zM1120 496h1v1h-1zM1124 496h1v1h-1zM1121 497h1v1h-1zM1124 497h1v1h-1zM1120 498h1v1h-1zM1122 498h3v1h-3zM1120 499h1v1h-1zM1122 499h1v1h-1zM1120 500h5v1h-5zM1224 488h5v1h-5zM1224 489h1v1h-1zM1226 489h1v1h-1zM1228 489h1v1h-1zM1224 491h5v1h-5zM1224 492h2v1h-2zM1227 492h2v1h-2zM1225 493h3v1h-3zM1224 494h5v1h-5zM1224 495h1v1h-1zM1226 495h1v1h-1zM1228 495h1v1h-1zM1224 497h5v1h-5zM1225 498h3v1h-3zM1224 499h5v1h-5zM1224 501h1v1h-1zM1228 501h1v1h-1zM1224 502h1v1h-1zM1228 502h1v1h-1zM1224 503h4v1h-4zM1377 470h3v1h-3zM1381 470h4v1h-4zM1377 471h1v1h-1zM1379 471h1v1h-1zM1381 471h1v1h-1zM1384 471h1v1h-1zM1377 472h3v1h-3zM1381 472h4v1h-4zM1379 473h1v1h-1zM1381 473h1v1h-1zM1377 474h3v1h-3zM1381 474h1v1h-1z"/><path d="M1264 461L1266 463L1264 464Z"/><rect x="1041" y="644" width="4" height="3"/><path d="M1047 677h3v1h-3zM1051 677h1v1h-1zM1047 678h1v1h-1zM1049 678h3v1h-3zM1047 679h1v1h-1zM1051 679h1v1h-1zM1047 680h5v1h-5zM1047 681h1v1h-1zM1051 681h1v1h-1zM1047 682h4v1h-4zM1047 683h5v1h-5zM1047 684h1v1h-1zM1049 684h1v1h-1zM1051 684h1v1h-1zM1047 685h1v1h-1zM1051 685h1v1h-1zM1047 686h5v1h-5zM1049 687h3v1h-3zM1047 688h3v1h-3zM1047 689h5v1h-5zM1050 690h1v1h-1zM1047 691h1v1h-1zM1051 691h1v1h-1zM1047 692h1v1h-1zM1051 692h1v1h-1zM1048 693h3v1h-3zM1068 674h1v1h-1zM1064 675h5v1h-5zM1064 676h1v1h-1zM1068 676h1v1h-1zM1068 677h1v1h-1zM1064 678h5v1h-5zM1068 679h1v1h-1zM1068 680h1v1h-1zM1064 681h5v1h-5zM1068 682h1v1h-1zM1067 683h1v1h-1zM1064 684h1v1h-1zM1068 684h1v1h-1zM1064 685h1v1h-1zM1068 685h1v1h-1zM1065 686h3v1h-3zM1120 674h5v1h-5zM1120 675h1v1h-1zM1122 675h1v1h-1zM1124 675h1v1h-1zM1120 676h1v1h-1zM1124 676h1v1h-1zM1124 677h1v1h-1zM1120 678h5v1h-5zM1120 679h1v1h-1zM1124 679h1v1h-1zM1124 680h1v1h-1zM1120 681h5v1h-5zM1120 682h1v1h-1zM1124 682h1v1h-1zM1121 683h1v1h-1zM1124 683h1v1h-1zM1120 684h1v1h-1zM1122 684h3v1h-3zM1120 685h1v1h-1zM1122 685h1v1h-1zM1120 686h5v1h-5zM1224 674h5v1h-5zM1224 675h1v1h-1zM1226 675h1v1h-1zM1228 675h1v1h-1zM1224 677h5v1h-5zM1224 678h2v1h-2zM1227 678h2v1h-2zM1225 679h3v1h-3zM1224 680h5v1h-5zM1224 681h1v1h-1zM1226 681h1v1h-1zM1228 681h1v1h-1zM1224 683h5v1h-5zM1225 684h3v1h-3zM1224 685h5v1h-5zM1224 687h1v1h-1zM1228 687h1v1h-1zM1224 688h1v1h-1zM1228 688h1v1h-1zM1224 689h4v1h-4zM1377 656h3v1h-3zM1381 656h4v1h-4zM1377 657h1v1h-1zM1379 657h1v1h-1zM1381 657h1v1h-1zM1384 657h1v1h-1zM1377 658h3v1h-3zM1381 658h4v1h-4zM1379 659h1v1h-1zM1381 659h1v1h-1zM1377 660h3v1h-3zM1381 660h1v1h-1z"/><path d="M1264 647L1266 649L1264 650Z"/></g></svg>
</body></html>
